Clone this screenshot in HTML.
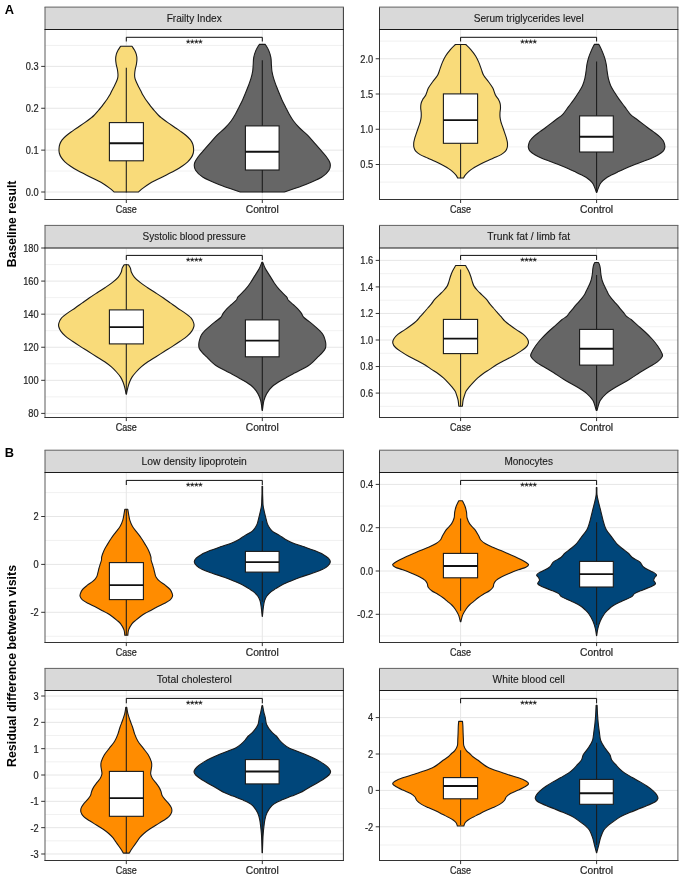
<!DOCTYPE html><html><head><meta charset="utf-8"><style>html,body{margin:0;padding:0;background:#fff;}svg{display:block;will-change:transform;}text{font-family:"Liberation Sans",sans-serif;}</style></head><body>
<svg width="685" height="886" viewBox="0 0 685 886">
<rect width="685" height="886" fill="#fff"/>
<line x1="45" y1="171.06" x2="343.4" y2="171.06" stroke="#EEEEEE" stroke-width="0.8"/>
<line x1="45" y1="129.19" x2="343.4" y2="129.19" stroke="#EEEEEE" stroke-width="0.8"/>
<line x1="45" y1="87.33" x2="343.4" y2="87.33" stroke="#EEEEEE" stroke-width="0.8"/>
<line x1="45" y1="45.46" x2="343.4" y2="45.46" stroke="#EEEEEE" stroke-width="0.8"/>
<line x1="45" y1="192" x2="343.4" y2="192" stroke="#E6E6E6" stroke-width="1"/>
<line x1="45" y1="150.13" x2="343.4" y2="150.13" stroke="#E6E6E6" stroke-width="1"/>
<line x1="45" y1="108.26" x2="343.4" y2="108.26" stroke="#E6E6E6" stroke-width="1"/>
<line x1="45" y1="66.39" x2="343.4" y2="66.39" stroke="#E6E6E6" stroke-width="1"/>
<line x1="126.3" y1="29.5" x2="126.3" y2="199.4" stroke="#E6E6E6" stroke-width="1"/>
<line x1="262.3" y1="29.5" x2="262.3" y2="199.4" stroke="#E6E6E6" stroke-width="1"/>
<path d="M120.65 46.2 L131.95 46.2 C132.37 46.85 133.73 48.77 134.45 50.1 C135.17 51.43 135.83 52.67 136.25 54.2 C136.67 55.73 136.92 57.6 136.95 59.3 C136.97 61 136.69 62.7 136.4 64.4 C136.11 66.1 135.5 67.78 135.2 69.5 C134.9 71.22 134.62 73.17 134.6 74.7 C134.57 76.23 134.7 77.35 135.05 78.7 C135.4 80.05 136.09 81.43 136.7 82.8 C137.31 84.17 138 85.53 138.7 86.9 C139.4 88.27 140.2 89.63 140.9 91 C141.6 92.37 142.13 93.73 142.9 95.1 C143.67 96.47 144.57 97.83 145.5 99.2 C146.43 100.57 147.48 101.93 148.5 103.3 C149.52 104.67 150.52 106.05 151.6 107.4 C152.68 108.75 153.82 110.05 155 111.4 C156.18 112.75 157.6 114.4 158.7 115.5 C159.8 116.6 160.13 116.85 161.6 118 C163.07 119.15 165.45 120.93 167.5 122.4 C169.55 123.87 171.78 125.35 173.9 126.8 C176.02 128.25 178.17 129.65 180.2 131.1 C182.23 132.55 184.38 134.03 186.1 135.5 C187.82 136.97 189.38 138.43 190.5 139.9 C191.62 141.37 192.28 142.83 192.8 144.3 C193.32 145.77 193.52 147.25 193.6 148.7 C193.68 150.15 193.67 151.55 193.3 153 C192.93 154.45 192.33 155.93 191.4 157.4 C190.47 158.87 189.27 160.33 187.7 161.8 C186.13 163.27 184.12 164.73 182 166.2 C179.88 167.67 177.6 169.15 175 170.6 C172.4 172.05 169.28 173.45 166.4 174.9 C163.52 176.35 160.55 177.83 157.7 179.3 C154.85 180.77 151.75 182.23 149.3 183.7 C146.85 185.17 144.83 186.72 143 188.1 C141.17 189.48 139.08 191.35 138.3 192 L114.3 192 C113.52 191.35 111.43 189.48 109.6 188.1 C107.77 186.72 105.75 185.17 103.3 183.7 C100.85 182.23 97.75 180.77 94.9 179.3 C92.05 177.83 89.08 176.35 86.2 174.9 C83.32 173.45 80.2 172.05 77.6 170.6 C75 169.15 72.72 167.67 70.6 166.2 C68.48 164.73 66.47 163.27 64.9 161.8 C63.33 160.33 62.13 158.87 61.2 157.4 C60.27 155.93 59.67 154.45 59.3 153 C58.93 151.55 58.92 150.15 59 148.7 C59.08 147.25 59.28 145.77 59.8 144.3 C60.32 142.83 60.98 141.37 62.1 139.9 C63.22 138.43 64.78 136.97 66.5 135.5 C68.22 134.03 70.37 132.55 72.4 131.1 C74.43 129.65 76.58 128.25 78.7 126.8 C80.82 125.35 83.05 123.87 85.1 122.4 C87.15 120.93 89.53 119.15 91 118 C92.47 116.85 92.8 116.6 93.9 115.5 C95 114.4 96.42 112.75 97.6 111.4 C98.78 110.05 99.92 108.75 101 107.4 C102.08 106.05 103.08 104.67 104.1 103.3 C105.12 101.93 106.17 100.57 107.1 99.2 C108.03 97.83 108.93 96.47 109.7 95.1 C110.47 93.73 111 92.37 111.7 91 C112.4 89.63 113.2 88.27 113.9 86.9 C114.6 85.53 115.29 84.17 115.9 82.8 C116.51 81.43 117.2 80.05 117.55 78.7 C117.9 77.35 118.03 76.23 118 74.7 C117.97 73.17 117.7 71.22 117.4 69.5 C117.1 67.78 116.49 66.1 116.2 64.4 C115.91 62.7 115.62 61 115.65 59.3 C115.67 57.6 115.93 55.73 116.35 54.2 C116.77 52.67 117.43 51.43 118.15 50.1 C118.87 48.77 120.23 46.85 120.65 46.2 Z" fill="#F9DB7A" stroke="#1a1a1a" stroke-width="1.1" stroke-linejoin="round"/>
<line x1="126.3" y1="67.7" x2="126.3" y2="192.5" stroke="#1a1a1a" stroke-width="1.05"/>
<rect x="109.4" y="122.6" width="34" height="38.2" fill="#fff" stroke="#1a1a1a" stroke-width="1.1"/>
<line x1="109.4" y1="143.3" x2="143.4" y2="143.3" stroke="#111" stroke-width="1.95"/>
<path d="M259.3 44.4 L265.3 44.4 C265.88 45.43 267.87 48.4 268.8 50.6 C269.73 52.8 270.47 55.25 270.9 57.6 C271.33 59.95 271.22 62.35 271.4 64.7 C271.58 67.05 271.62 69.37 272 71.7 C272.38 74.03 273 76.35 273.7 78.7 C274.4 81.05 275.32 83.45 276.2 85.8 C277.08 88.15 278.03 90.45 279 92.8 C279.97 95.15 280.92 97.55 282 99.9 C283.08 102.25 284.32 104.55 285.5 106.9 C286.68 109.25 287.77 111.65 289.1 114 C290.43 116.35 291.75 118.67 293.5 121 C295.25 123.33 297.27 125.65 299.6 128 C301.93 130.35 305.15 132.75 307.5 135.1 C309.85 137.45 311.63 139.75 313.7 142.1 C315.77 144.45 317.85 146.85 319.9 149.2 C321.95 151.55 324.3 153.85 326 156.2 C327.7 158.55 329.6 160.95 330.1 163.3 C330.6 165.65 330.42 167.97 329 170.3 C327.58 172.63 325.47 174.95 321.6 177.3 C317.73 179.65 312.02 181.95 305.8 184.4 C299.58 186.85 287.88 190.73 284.3 192 L240.3 192 C236.72 190.73 225.02 186.85 218.8 184.4 C212.58 181.95 206.87 179.65 203 177.3 C199.13 174.95 197.02 172.63 195.6 170.3 C194.18 167.97 194 165.65 194.5 163.3 C195 160.95 196.9 158.55 198.6 156.2 C200.3 153.85 202.65 151.55 204.7 149.2 C206.75 146.85 208.83 144.45 210.9 142.1 C212.97 139.75 214.75 137.45 217.1 135.1 C219.45 132.75 222.67 130.35 225 128 C227.33 125.65 229.35 123.33 231.1 121 C232.85 118.67 234.17 116.35 235.5 114 C236.83 111.65 237.92 109.25 239.1 106.9 C240.28 104.55 241.52 102.25 242.6 99.9 C243.68 97.55 244.63 95.15 245.6 92.8 C246.57 90.45 247.52 88.15 248.4 85.8 C249.28 83.45 250.2 81.05 250.9 78.7 C251.6 76.35 252.22 74.03 252.6 71.7 C252.98 69.37 253.02 67.05 253.2 64.7 C253.38 62.35 253.27 59.95 253.7 57.6 C254.13 55.25 254.87 52.8 255.8 50.6 C256.73 48.4 258.72 45.43 259.3 44.4 Z" fill="#666666" stroke="#1a1a1a" stroke-width="1.1" stroke-linejoin="round"/>
<line x1="262.3" y1="60.2" x2="262.3" y2="192.5" stroke="#1a1a1a" stroke-width="1.05"/>
<rect x="245.4" y="125.9" width="33.7" height="44.1" fill="#fff" stroke="#1a1a1a" stroke-width="1.1"/>
<line x1="245.4" y1="151.8" x2="279.1" y2="151.8" stroke="#111" stroke-width="1.95"/>
<path d="M126.3 41.5 V37.3 H262.3 V41.5" fill="none" stroke="#000" stroke-width="0.95"/>
<path d="M188.15 39.35L188.62 40.95L190.29 40.9L188.91 41.85L189.47 43.42L188.15 42.4L186.83 43.42L187.39 41.85L186.01 40.9L187.68 40.95ZM192.25 39.35L192.72 40.95L194.39 40.9L193.01 41.85L193.57 43.42L192.25 42.4L190.93 43.42L191.49 41.85L190.11 40.9L191.78 40.95ZM196.35 39.35L196.82 40.95L198.49 40.9L197.11 41.85L197.67 43.42L196.35 42.4L195.03 43.42L195.59 41.85L194.21 40.9L195.88 40.95ZM200.45 39.35L200.92 40.95L202.59 40.9L201.21 41.85L201.77 43.42L200.45 42.4L199.13 43.42L199.69 41.85L198.31 40.9L199.98 40.95Z" stroke="#222" stroke-width="0.25" stroke-linejoin="round" fill="#222"/>
<rect x="45" y="7.1" width="298.4" height="22.4" fill="#D9D9D9"/>
<line x1="45" y1="7.1" x2="45" y2="199.9" stroke="#5a5a5a" stroke-width="1.0"/>
<line x1="343.4" y1="7.1" x2="343.4" y2="199.9" stroke="#333333" stroke-width="1.0"/>
<line x1="44.5" y1="7.1" x2="343.9" y2="7.1" stroke="#606060" stroke-width="1"/>
<line x1="44.5" y1="29.5" x2="343.9" y2="29.5" stroke="#1a1a1a" stroke-width="1.05"/>
<line x1="44.5" y1="199.4" x2="343.9" y2="199.4" stroke="#333333" stroke-width="1.05"/>
<text x="194.2" y="21.7" font-size="10.2" fill="#1a1a1a" stroke="#1a1a1a" stroke-width="0.12" text-anchor="middle" textLength="55" lengthAdjust="spacingAndGlyphs">Frailty Index</text>
<line x1="41.2" y1="192" x2="45" y2="192" stroke="#333333" stroke-width="1"/>
<text transform="translate(38.6 195.85) scale(0.925 1)" font-size="10" fill="#262626" stroke="#262626" stroke-width="0.22" text-anchor="end">0.0</text>
<line x1="41.2" y1="150.13" x2="45" y2="150.13" stroke="#333333" stroke-width="1"/>
<text transform="translate(38.6 153.98) scale(0.925 1)" font-size="10" fill="#262626" stroke="#262626" stroke-width="0.22" text-anchor="end">0.1</text>
<line x1="41.2" y1="108.26" x2="45" y2="108.26" stroke="#333333" stroke-width="1"/>
<text transform="translate(38.6 112.11) scale(0.925 1)" font-size="10" fill="#262626" stroke="#262626" stroke-width="0.22" text-anchor="end">0.2</text>
<line x1="41.2" y1="66.39" x2="45" y2="66.39" stroke="#333333" stroke-width="1"/>
<text transform="translate(38.6 70.24) scale(0.925 1)" font-size="10" fill="#262626" stroke="#262626" stroke-width="0.22" text-anchor="end">0.3</text>
<line x1="126.3" y1="199.4" x2="126.3" y2="203" stroke="#333333" stroke-width="1"/>
<text x="126.3" y="213" font-size="10.1" fill="#262626" stroke="#262626" stroke-width="0.22" text-anchor="middle" textLength="21" lengthAdjust="spacingAndGlyphs">Case</text>
<line x1="262.3" y1="199.4" x2="262.3" y2="203" stroke="#333333" stroke-width="1"/>
<text x="262.3" y="213" font-size="10.1" fill="#262626" stroke="#262626" stroke-width="0.22" text-anchor="middle" textLength="33.1" lengthAdjust="spacingAndGlyphs">Control</text>
<line x1="379.5" y1="182.12" x2="677.9" y2="182.12" stroke="#EEEEEE" stroke-width="0.8"/>
<line x1="379.5" y1="146.88" x2="677.9" y2="146.88" stroke="#EEEEEE" stroke-width="0.8"/>
<line x1="379.5" y1="111.62" x2="677.9" y2="111.62" stroke="#EEEEEE" stroke-width="0.8"/>
<line x1="379.5" y1="76.38" x2="677.9" y2="76.38" stroke="#EEEEEE" stroke-width="0.8"/>
<line x1="379.5" y1="41.12" x2="677.9" y2="41.12" stroke="#EEEEEE" stroke-width="0.8"/>
<line x1="379.5" y1="164.5" x2="677.9" y2="164.5" stroke="#E6E6E6" stroke-width="1"/>
<line x1="379.5" y1="129.25" x2="677.9" y2="129.25" stroke="#E6E6E6" stroke-width="1"/>
<line x1="379.5" y1="94" x2="677.9" y2="94" stroke="#E6E6E6" stroke-width="1"/>
<line x1="379.5" y1="58.75" x2="677.9" y2="58.75" stroke="#E6E6E6" stroke-width="1"/>
<line x1="460.6" y1="29.5" x2="460.6" y2="199.4" stroke="#E6E6E6" stroke-width="1"/>
<line x1="596.6" y1="29.5" x2="596.6" y2="199.4" stroke="#E6E6E6" stroke-width="1"/>
<path d="M455.5 44.5 L465.7 44.5 C466.55 45.35 469.15 47.68 470.8 49.6 C472.45 51.52 474.27 53.87 475.6 56 C476.93 58.13 477.87 60.25 478.8 62.4 C479.73 64.55 480.4 66.75 481.2 68.9 C482 71.05 482.38 73.17 483.6 75.3 C484.82 77.43 486.97 79.57 488.5 81.7 C490.03 83.83 491.65 85.88 492.8 88.1 C493.95 90.32 494.45 93.12 495.4 95 C496.35 96.88 497.7 97.93 498.5 99.4 C499.3 100.87 499.87 102.35 500.2 103.8 C500.53 105.25 500.53 106.65 500.5 108.1 C500.47 109.55 500.08 111.03 500 112.5 C499.92 113.97 499.87 115.43 500 116.9 C500.13 118.37 500.43 119.83 500.8 121.3 C501.17 122.77 501.72 124.25 502.2 125.7 C502.68 127.15 503.2 128.55 503.7 130 C504.2 131.45 504.72 132.93 505.2 134.4 C505.68 135.87 506.22 137.33 506.6 138.8 C506.98 140.27 507.4 141.73 507.5 143.2 C507.6 144.67 507.53 146.28 507.2 147.6 C506.87 148.92 506.52 149.93 505.5 151.1 C504.48 152.27 503.08 153.43 501.1 154.6 C499.12 155.77 496.15 156.93 493.6 158.1 C491.05 159.27 488.27 160.43 485.8 161.6 C483.33 162.77 481 163.93 478.8 165.1 C476.6 166.27 474.25 167.55 472.6 168.6 C470.95 169.65 470.17 170.27 468.9 171.4 C467.63 172.53 465.88 174.3 465 175.4 C464.12 176.5 463.83 177.57 463.6 178 L457.6 178 C457.37 177.57 457.08 176.5 456.2 175.4 C455.32 174.3 453.57 172.53 452.3 171.4 C451.03 170.27 450.25 169.65 448.6 168.6 C446.95 167.55 444.6 166.27 442.4 165.1 C440.2 163.93 437.87 162.77 435.4 161.6 C432.93 160.43 430.15 159.27 427.6 158.1 C425.05 156.93 422.08 155.77 420.1 154.6 C418.12 153.43 416.72 152.27 415.7 151.1 C414.68 149.93 414.33 148.92 414 147.6 C413.67 146.28 413.6 144.67 413.7 143.2 C413.8 141.73 414.22 140.27 414.6 138.8 C414.98 137.33 415.52 135.87 416 134.4 C416.48 132.93 417 131.45 417.5 130 C418 128.55 418.52 127.15 419 125.7 C419.48 124.25 420.03 122.77 420.4 121.3 C420.77 119.83 421.07 118.37 421.2 116.9 C421.33 115.43 421.28 113.97 421.2 112.5 C421.12 111.03 420.73 109.55 420.7 108.1 C420.67 106.65 420.67 105.25 421 103.8 C421.33 102.35 421.9 100.87 422.7 99.4 C423.5 97.93 424.85 96.88 425.8 95 C426.75 93.12 427.25 90.32 428.4 88.1 C429.55 85.88 431.17 83.83 432.7 81.7 C434.23 79.57 436.38 77.43 437.6 75.3 C438.82 73.17 439.2 71.05 440 68.9 C440.8 66.75 441.47 64.55 442.4 62.4 C443.33 60.25 444.27 58.13 445.6 56 C446.93 53.87 448.75 51.52 450.4 49.6 C452.05 47.68 454.65 45.35 455.5 44.5 Z" fill="#F9DB7A" stroke="#1a1a1a" stroke-width="1.1" stroke-linejoin="round"/>
<line x1="460.6" y1="44.5" x2="460.6" y2="178.3" stroke="#1a1a1a" stroke-width="1.05"/>
<rect x="443.4" y="93.9" width="34.2" height="49.4" fill="#fff" stroke="#1a1a1a" stroke-width="1.1"/>
<line x1="443.4" y1="120.1" x2="477.6" y2="120.1" stroke="#111" stroke-width="1.95"/>
<path d="M594.3 44.4 L598.9 44.4 C599.4 45.43 600.95 48.4 601.9 50.6 C602.85 52.8 603.87 55.25 604.6 57.6 C605.33 59.95 605.87 62.35 606.3 64.7 C606.73 67.05 606.85 69.37 607.2 71.7 C607.55 74.03 607.82 76.35 608.4 78.7 C608.98 81.05 609.63 83.45 610.7 85.8 C611.77 88.15 613.33 90.45 614.8 92.8 C616.27 95.15 617.83 97.55 619.5 99.9 C621.17 102.25 622.98 104.48 624.8 106.9 C626.62 109.32 628.52 112.42 630.4 114.4 C632.28 116.38 634.2 117.35 636.1 118.8 C638 120.25 639.9 121.65 641.8 123.1 C643.7 124.55 645.53 126.03 647.5 127.5 C649.47 128.97 651.63 130.43 653.6 131.9 C655.57 133.37 657.7 134.83 659.3 136.3 C660.9 137.77 662.3 139.25 663.2 140.7 C664.1 142.15 664.43 143.83 664.7 145 C664.97 146.17 665.05 146.67 664.8 147.7 C664.55 148.73 664.27 150.03 663.2 151.2 C662.13 152.37 660.37 153.53 658.4 154.7 C656.43 155.87 654.1 157.03 651.4 158.2 C648.7 159.37 645.27 160.53 642.2 161.7 C639.13 162.87 635.92 164.03 633 165.2 C630.08 166.37 627.32 167.53 624.7 168.7 C622.08 169.87 619.42 171.18 617.3 172.2 C615.18 173.22 613.68 173.95 612 174.8 C610.32 175.65 609.03 176 607.2 177.3 C605.37 178.6 602.47 180.83 601 182.6 C599.53 184.37 599.1 186.27 598.4 187.9 C597.7 189.53 597.07 191.65 596.8 192.4 L596.4 192.4 C596.13 191.65 595.5 189.53 594.8 187.9 C594.1 186.27 593.67 184.37 592.2 182.6 C590.73 180.83 587.83 178.6 586 177.3 C584.17 176 582.88 175.65 581.2 174.8 C579.52 173.95 578.02 173.22 575.9 172.2 C573.78 171.18 571.12 169.87 568.5 168.7 C565.88 167.53 563.12 166.37 560.2 165.2 C557.28 164.03 554.07 162.87 551 161.7 C547.93 160.53 544.5 159.37 541.8 158.2 C539.1 157.03 536.77 155.87 534.8 154.7 C532.83 153.53 531.07 152.37 530 151.2 C528.93 150.03 528.65 148.73 528.4 147.7 C528.15 146.67 528.23 146.17 528.5 145 C528.77 143.83 529.1 142.15 530 140.7 C530.9 139.25 532.3 137.77 533.9 136.3 C535.5 134.83 537.63 133.37 539.6 131.9 C541.57 130.43 543.73 128.97 545.7 127.5 C547.67 126.03 549.5 124.55 551.4 123.1 C553.3 121.65 555.2 120.25 557.1 118.8 C559 117.35 560.92 116.38 562.8 114.4 C564.68 112.42 566.58 109.32 568.4 106.9 C570.22 104.48 572.03 102.25 573.7 99.9 C575.37 97.55 576.93 95.15 578.4 92.8 C579.87 90.45 581.43 88.15 582.5 85.8 C583.57 83.45 584.22 81.05 584.8 78.7 C585.38 76.35 585.65 74.03 586 71.7 C586.35 69.37 586.47 67.05 586.9 64.7 C587.33 62.35 587.87 59.95 588.6 57.6 C589.33 55.25 590.35 52.8 591.3 50.6 C592.25 48.4 593.8 45.43 594.3 44.4 Z" fill="#666666" stroke="#1a1a1a" stroke-width="1.1" stroke-linejoin="round"/>
<line x1="596.6" y1="61.5" x2="596.6" y2="192.5" stroke="#1a1a1a" stroke-width="1.05"/>
<rect x="579.6" y="115.9" width="33.7" height="36.1" fill="#fff" stroke="#1a1a1a" stroke-width="1.1"/>
<line x1="579.6" y1="136.8" x2="613.3" y2="136.8" stroke="#111" stroke-width="1.95"/>
<path d="M460.6 41.5 V37.3 H596.6 V41.5" fill="none" stroke="#000" stroke-width="0.95"/>
<path d="M522.45 39.35L522.92 40.95L524.59 40.9L523.21 41.85L523.77 43.42L522.45 42.4L521.13 43.42L521.69 41.85L520.31 40.9L521.98 40.95ZM526.55 39.35L527.02 40.95L528.69 40.9L527.31 41.85L527.87 43.42L526.55 42.4L525.23 43.42L525.79 41.85L524.41 40.9L526.08 40.95ZM530.65 39.35L531.12 40.95L532.79 40.9L531.41 41.85L531.97 43.42L530.65 42.4L529.33 43.42L529.89 41.85L528.51 40.9L530.18 40.95ZM534.75 39.35L535.22 40.95L536.89 40.9L535.51 41.85L536.07 43.42L534.75 42.4L533.43 43.42L533.99 41.85L532.61 40.9L534.28 40.95Z" stroke="#222" stroke-width="0.25" stroke-linejoin="round" fill="#222"/>
<rect x="379.5" y="7.1" width="298.4" height="22.4" fill="#D9D9D9"/>
<line x1="379.5" y1="7.1" x2="379.5" y2="199.9" stroke="#333333" stroke-width="1.0"/>
<line x1="677.9" y1="7.1" x2="677.9" y2="199.9" stroke="#5a5a5a" stroke-width="1.0"/>
<line x1="379" y1="7.1" x2="678.4" y2="7.1" stroke="#606060" stroke-width="1"/>
<line x1="379" y1="29.5" x2="678.4" y2="29.5" stroke="#1a1a1a" stroke-width="1.05"/>
<line x1="379" y1="199.4" x2="678.4" y2="199.4" stroke="#333333" stroke-width="1.05"/>
<text x="528.7" y="21.7" font-size="10.2" fill="#1a1a1a" stroke="#1a1a1a" stroke-width="0.12" text-anchor="middle" textLength="110" lengthAdjust="spacingAndGlyphs">Serum triglycerides level</text>
<line x1="375.7" y1="164.5" x2="379.5" y2="164.5" stroke="#333333" stroke-width="1"/>
<text transform="translate(373.1 168.35) scale(0.925 1)" font-size="10" fill="#262626" stroke="#262626" stroke-width="0.22" text-anchor="end">0.5</text>
<line x1="375.7" y1="129.25" x2="379.5" y2="129.25" stroke="#333333" stroke-width="1"/>
<text transform="translate(373.1 133.1) scale(0.925 1)" font-size="10" fill="#262626" stroke="#262626" stroke-width="0.22" text-anchor="end">1.0</text>
<line x1="375.7" y1="94" x2="379.5" y2="94" stroke="#333333" stroke-width="1"/>
<text transform="translate(373.1 97.85) scale(0.925 1)" font-size="10" fill="#262626" stroke="#262626" stroke-width="0.22" text-anchor="end">1.5</text>
<line x1="375.7" y1="58.75" x2="379.5" y2="58.75" stroke="#333333" stroke-width="1"/>
<text transform="translate(373.1 62.6) scale(0.925 1)" font-size="10" fill="#262626" stroke="#262626" stroke-width="0.22" text-anchor="end">2.0</text>
<line x1="460.6" y1="199.4" x2="460.6" y2="203" stroke="#333333" stroke-width="1"/>
<text x="460.6" y="213" font-size="10.1" fill="#262626" stroke="#262626" stroke-width="0.22" text-anchor="middle" textLength="21" lengthAdjust="spacingAndGlyphs">Case</text>
<line x1="596.6" y1="199.4" x2="596.6" y2="203" stroke="#333333" stroke-width="1"/>
<text x="596.6" y="213" font-size="10.1" fill="#262626" stroke="#262626" stroke-width="0.22" text-anchor="middle" textLength="33.1" lengthAdjust="spacingAndGlyphs">Control</text>
<line x1="45" y1="396.86" x2="343.4" y2="396.86" stroke="#EEEEEE" stroke-width="0.8"/>
<line x1="45" y1="363.78" x2="343.4" y2="363.78" stroke="#EEEEEE" stroke-width="0.8"/>
<line x1="45" y1="330.7" x2="343.4" y2="330.7" stroke="#EEEEEE" stroke-width="0.8"/>
<line x1="45" y1="297.62" x2="343.4" y2="297.62" stroke="#EEEEEE" stroke-width="0.8"/>
<line x1="45" y1="264.54" x2="343.4" y2="264.54" stroke="#EEEEEE" stroke-width="0.8"/>
<line x1="45" y1="413.4" x2="343.4" y2="413.4" stroke="#E6E6E6" stroke-width="1"/>
<line x1="45" y1="380.32" x2="343.4" y2="380.32" stroke="#E6E6E6" stroke-width="1"/>
<line x1="45" y1="347.24" x2="343.4" y2="347.24" stroke="#E6E6E6" stroke-width="1"/>
<line x1="45" y1="314.16" x2="343.4" y2="314.16" stroke="#E6E6E6" stroke-width="1"/>
<line x1="45" y1="281.08" x2="343.4" y2="281.08" stroke="#E6E6E6" stroke-width="1"/>
<line x1="45" y1="248" x2="343.4" y2="248" stroke="#E6E6E6" stroke-width="1"/>
<line x1="126.3" y1="247.9" x2="126.3" y2="417.5" stroke="#E6E6E6" stroke-width="1"/>
<line x1="262.3" y1="247.9" x2="262.3" y2="417.5" stroke="#E6E6E6" stroke-width="1"/>
<path d="M124.2 264.7 L128.4 264.7 C128.73 265.27 129.9 266.85 130.4 268.1 C130.9 269.35 130.72 270.67 131.4 272.2 C132.08 273.73 133.05 275.6 134.5 277.3 C135.95 279 137.97 280.7 140.1 282.4 C142.23 284.1 144.75 285.78 147.3 287.5 C149.85 289.22 152.77 290.98 155.4 292.7 C158.03 294.42 160.62 296.1 163.1 297.8 C165.58 299.5 167.92 301.2 170.3 302.9 C172.68 304.6 174.93 306.3 177.4 308 C179.87 309.7 182.8 311.4 185.1 313.1 C187.4 314.8 189.75 316.5 191.2 318.2 C192.65 319.9 193.35 321.92 193.8 323.3 C194.25 324.68 194.23 325.2 193.9 326.5 C193.57 327.8 192.92 329.48 191.8 331.1 C190.68 332.72 189.15 334.5 187.2 336.2 C185.25 337.9 182.57 339.6 180.1 341.3 C177.63 343 175.05 344.7 172.4 346.4 C169.75 348.1 166.93 349.78 164.2 351.5 C161.47 353.22 158.72 354.98 156 356.7 C153.28 358.42 150.37 360.1 147.9 361.8 C145.43 363.5 143.17 365.2 141.2 366.9 C139.23 368.6 137.63 370.3 136.1 372 C134.57 373.7 133.1 375.4 132 377.1 C130.9 378.8 130.18 380.5 129.5 382.2 C128.82 383.9 128.42 385.3 127.9 387.3 C127.38 389.3 126.65 393.05 126.4 394.2 L126.2 394.2 C125.95 393.05 125.22 389.3 124.7 387.3 C124.18 385.3 123.78 383.9 123.1 382.2 C122.42 380.5 121.7 378.8 120.6 377.1 C119.5 375.4 118.03 373.7 116.5 372 C114.97 370.3 113.37 368.6 111.4 366.9 C109.43 365.2 107.17 363.5 104.7 361.8 C102.23 360.1 99.32 358.42 96.6 356.7 C93.88 354.98 91.13 353.22 88.4 351.5 C85.67 349.78 82.85 348.1 80.2 346.4 C77.55 344.7 74.97 343 72.5 341.3 C70.03 339.6 67.35 337.9 65.4 336.2 C63.45 334.5 61.92 332.72 60.8 331.1 C59.68 329.48 59.03 327.8 58.7 326.5 C58.37 325.2 58.35 324.68 58.8 323.3 C59.25 321.92 59.95 319.9 61.4 318.2 C62.85 316.5 65.2 314.8 67.5 313.1 C69.8 311.4 72.73 309.7 75.2 308 C77.67 306.3 79.92 304.6 82.3 302.9 C84.68 301.2 87.02 299.5 89.5 297.8 C91.98 296.1 94.57 294.42 97.2 292.7 C99.83 290.98 102.75 289.22 105.3 287.5 C107.85 285.78 110.37 284.1 112.5 282.4 C114.63 280.7 116.65 279 118.1 277.3 C119.55 275.6 120.52 273.73 121.2 272.2 C121.88 270.67 121.7 269.35 122.2 268.1 C122.7 266.85 123.87 265.27 124.2 264.7 Z" fill="#F9DB7A" stroke="#1a1a1a" stroke-width="1.1" stroke-linejoin="round"/>
<line x1="126.3" y1="264" x2="126.3" y2="394.3" stroke="#1a1a1a" stroke-width="1.05"/>
<rect x="109.4" y="309.9" width="34" height="34" fill="#fff" stroke="#1a1a1a" stroke-width="1.1"/>
<line x1="109.4" y1="327.1" x2="143.4" y2="327.1" stroke="#111" stroke-width="1.95"/>
<path d="M261.8 262.4 L262.8 262.4 C263.22 263.43 264.15 266.4 265.3 268.6 C266.45 270.8 268.23 273.25 269.7 275.6 C271.17 277.95 272.48 280.35 274.1 282.7 C275.72 285.05 277.35 287.37 279.4 289.7 C281.45 292.03 284.93 294.98 286.4 296.7 C287.87 298.42 287.1 298.72 288.2 300 C289.3 301.28 291.4 302.93 293 304.4 C294.6 305.87 296.42 307.35 297.8 308.8 C299.18 310.25 300.28 311.65 301.3 313.1 C302.32 314.55 302.52 316.03 303.9 317.5 C305.28 318.97 307.77 320.43 309.6 321.9 C311.43 323.37 313.22 324.83 314.9 326.3 C316.58 327.77 318.32 329.25 319.7 330.7 C321.08 332.15 322.33 333.55 323.2 335 C324.07 336.45 324.47 337.93 324.9 339.4 C325.33 340.87 325.72 342.33 325.8 343.8 C325.88 345.27 325.98 346.73 325.4 348.2 C324.82 349.67 323.55 351.15 322.3 352.6 C321.05 354.05 319.35 355.45 317.9 356.9 C316.45 358.35 315.2 359.83 313.6 361.3 C312 362.77 310.5 364.23 308.3 365.7 C306.1 367.17 302.88 368.78 300.4 370.1 C297.92 371.42 296.32 372.03 293.4 373.6 C290.48 375.17 286.42 377.35 282.9 379.5 C279.38 381.65 275 384.15 272.3 386.5 C269.6 388.85 268.1 391.25 266.7 393.6 C265.3 395.95 264.62 397.8 263.9 400.6 C263.18 403.4 262.65 408.77 262.4 410.4 L262.2 410.4 C261.95 408.77 261.42 403.4 260.7 400.6 C259.98 397.8 259.3 395.95 257.9 393.6 C256.5 391.25 255 388.85 252.3 386.5 C249.6 384.15 245.22 381.65 241.7 379.5 C238.18 377.35 234.12 375.17 231.2 373.6 C228.28 372.03 226.68 371.42 224.2 370.1 C221.72 368.78 218.5 367.17 216.3 365.7 C214.1 364.23 212.6 362.77 211 361.3 C209.4 359.83 208.15 358.35 206.7 356.9 C205.25 355.45 203.55 354.05 202.3 352.6 C201.05 351.15 199.78 349.67 199.2 348.2 C198.62 346.73 198.72 345.27 198.8 343.8 C198.88 342.33 199.27 340.87 199.7 339.4 C200.13 337.93 200.53 336.45 201.4 335 C202.27 333.55 203.52 332.15 204.9 330.7 C206.28 329.25 208.02 327.77 209.7 326.3 C211.38 324.83 213.17 323.37 215 321.9 C216.83 320.43 219.32 318.97 220.7 317.5 C222.08 316.03 222.28 314.55 223.3 313.1 C224.32 311.65 225.42 310.25 226.8 308.8 C228.18 307.35 230 305.87 231.6 304.4 C233.2 302.93 235.3 301.28 236.4 300 C237.5 298.72 236.73 298.42 238.2 296.7 C239.67 294.98 243.15 292.03 245.2 289.7 C247.25 287.37 248.88 285.05 250.5 282.7 C252.12 280.35 253.43 277.95 254.9 275.6 C256.37 273.25 258.15 270.8 259.3 268.6 C260.45 266.4 261.38 263.43 261.8 262.4 Z" fill="#666666" stroke="#1a1a1a" stroke-width="1.1" stroke-linejoin="round"/>
<line x1="262.3" y1="262" x2="262.3" y2="410.5" stroke="#1a1a1a" stroke-width="1.05"/>
<rect x="245.4" y="319.9" width="33.7" height="36.9" fill="#fff" stroke="#1a1a1a" stroke-width="1.1"/>
<line x1="245.4" y1="340.6" x2="279.1" y2="340.6" stroke="#111" stroke-width="1.95"/>
<path d="M126.3 260 V255.4 H262.3 V260" fill="none" stroke="#000" stroke-width="0.95"/>
<path d="M188.15 257.45L188.62 259.05L190.29 259L188.91 259.95L189.47 261.52L188.15 260.5L186.83 261.52L187.39 259.95L186.01 259L187.68 259.05ZM192.25 257.45L192.72 259.05L194.39 259L193.01 259.95L193.57 261.52L192.25 260.5L190.93 261.52L191.49 259.95L190.11 259L191.78 259.05ZM196.35 257.45L196.82 259.05L198.49 259L197.11 259.95L197.67 261.52L196.35 260.5L195.03 261.52L195.59 259.95L194.21 259L195.88 259.05ZM200.45 257.45L200.92 259.05L202.59 259L201.21 259.95L201.77 261.52L200.45 260.5L199.13 261.52L199.69 259.95L198.31 259L199.98 259.05Z" stroke="#222" stroke-width="0.25" stroke-linejoin="round" fill="#222"/>
<rect x="45" y="225.4" width="298.4" height="22.5" fill="#D9D9D9"/>
<line x1="45" y1="225.4" x2="45" y2="418" stroke="#5a5a5a" stroke-width="1.0"/>
<line x1="343.4" y1="225.4" x2="343.4" y2="418" stroke="#333333" stroke-width="1.0"/>
<line x1="44.5" y1="225.4" x2="343.9" y2="225.4" stroke="#606060" stroke-width="1"/>
<line x1="44.5" y1="247.9" x2="343.9" y2="247.9" stroke="#1a1a1a" stroke-width="1.05"/>
<line x1="44.5" y1="417.5" x2="343.9" y2="417.5" stroke="#333333" stroke-width="1.05"/>
<text x="194.2" y="240" font-size="10.2" fill="#1a1a1a" stroke="#1a1a1a" stroke-width="0.12" text-anchor="middle" textLength="103.3" lengthAdjust="spacingAndGlyphs">Systolic blood pressure</text>
<line x1="41.2" y1="413.4" x2="45" y2="413.4" stroke="#333333" stroke-width="1"/>
<text transform="translate(38.6 417.25) scale(0.925 1)" font-size="10" fill="#262626" stroke="#262626" stroke-width="0.22" text-anchor="end">80</text>
<line x1="41.2" y1="380.32" x2="45" y2="380.32" stroke="#333333" stroke-width="1"/>
<text transform="translate(38.6 384.17) scale(0.925 1)" font-size="10" fill="#262626" stroke="#262626" stroke-width="0.22" text-anchor="end">100</text>
<line x1="41.2" y1="347.24" x2="45" y2="347.24" stroke="#333333" stroke-width="1"/>
<text transform="translate(38.6 351.09) scale(0.925 1)" font-size="10" fill="#262626" stroke="#262626" stroke-width="0.22" text-anchor="end">120</text>
<line x1="41.2" y1="314.16" x2="45" y2="314.16" stroke="#333333" stroke-width="1"/>
<text transform="translate(38.6 318.01) scale(0.925 1)" font-size="10" fill="#262626" stroke="#262626" stroke-width="0.22" text-anchor="end">140</text>
<line x1="41.2" y1="281.08" x2="45" y2="281.08" stroke="#333333" stroke-width="1"/>
<text transform="translate(38.6 284.93) scale(0.925 1)" font-size="10" fill="#262626" stroke="#262626" stroke-width="0.22" text-anchor="end">160</text>
<line x1="41.2" y1="248" x2="45" y2="248" stroke="#333333" stroke-width="1"/>
<text transform="translate(38.6 251.85) scale(0.925 1)" font-size="10" fill="#262626" stroke="#262626" stroke-width="0.22" text-anchor="end">180</text>
<line x1="126.3" y1="417.5" x2="126.3" y2="421.1" stroke="#333333" stroke-width="1"/>
<text x="126.3" y="431.1" font-size="10.1" fill="#262626" stroke="#262626" stroke-width="0.22" text-anchor="middle" textLength="21" lengthAdjust="spacingAndGlyphs">Case</text>
<line x1="262.3" y1="417.5" x2="262.3" y2="421.1" stroke="#333333" stroke-width="1"/>
<text x="262.3" y="431.1" font-size="10.1" fill="#262626" stroke="#262626" stroke-width="0.22" text-anchor="middle" textLength="33.1" lengthAdjust="spacingAndGlyphs">Control</text>
<line x1="379.5" y1="406.35" x2="677.9" y2="406.35" stroke="#EEEEEE" stroke-width="0.8"/>
<line x1="379.5" y1="379.81" x2="677.9" y2="379.81" stroke="#EEEEEE" stroke-width="0.8"/>
<line x1="379.5" y1="353.27" x2="677.9" y2="353.27" stroke="#EEEEEE" stroke-width="0.8"/>
<line x1="379.5" y1="326.73" x2="677.9" y2="326.73" stroke="#EEEEEE" stroke-width="0.8"/>
<line x1="379.5" y1="300.19" x2="677.9" y2="300.19" stroke="#EEEEEE" stroke-width="0.8"/>
<line x1="379.5" y1="273.65" x2="677.9" y2="273.65" stroke="#EEEEEE" stroke-width="0.8"/>
<line x1="379.5" y1="393.08" x2="677.9" y2="393.08" stroke="#E6E6E6" stroke-width="1"/>
<line x1="379.5" y1="366.54" x2="677.9" y2="366.54" stroke="#E6E6E6" stroke-width="1"/>
<line x1="379.5" y1="340" x2="677.9" y2="340" stroke="#E6E6E6" stroke-width="1"/>
<line x1="379.5" y1="313.46" x2="677.9" y2="313.46" stroke="#E6E6E6" stroke-width="1"/>
<line x1="379.5" y1="286.92" x2="677.9" y2="286.92" stroke="#E6E6E6" stroke-width="1"/>
<line x1="379.5" y1="260.38" x2="677.9" y2="260.38" stroke="#E6E6E6" stroke-width="1"/>
<line x1="460.6" y1="247.9" x2="460.6" y2="417.5" stroke="#E6E6E6" stroke-width="1"/>
<line x1="596.6" y1="247.9" x2="596.6" y2="417.5" stroke="#E6E6E6" stroke-width="1"/>
<path d="M455.7 265.5 L465.5 265.5 C466 266.38 467.63 269.02 468.5 270.8 C469.37 272.58 470.07 274.38 470.7 276.2 C471.33 278.02 471.75 280.05 472.3 281.7 C472.85 283.35 473.13 284.63 474 286.1 C474.87 287.57 476.18 289.05 477.5 290.5 C478.82 291.95 480.43 293.35 481.9 294.8 C483.37 296.25 485.02 297.73 486.3 299.2 C487.58 300.67 488.42 302.13 489.6 303.6 C490.78 305.07 492.13 306.53 493.4 308 C494.67 309.47 495.92 310.95 497.2 312.4 C498.48 313.85 499.82 315.25 501.1 316.7 C502.38 318.15 503.35 319.63 504.9 321.1 C506.45 322.57 508.45 324.03 510.4 325.5 C512.35 326.97 514.43 328.42 516.6 329.9 C518.77 331.38 521.62 332.92 523.4 334.4 C525.18 335.88 526.47 337.35 527.3 338.8 C528.13 340.25 528.67 341.65 528.4 343.1 C528.13 344.55 527.15 346.03 525.7 347.5 C524.25 348.97 521.88 350.43 519.7 351.9 C517.52 353.37 515.25 354.83 512.6 356.3 C509.95 357.77 506.55 359.25 503.8 360.7 C501.05 362.15 498.47 363.55 496.1 365 C493.73 366.45 491.78 367.93 489.6 369.4 C487.42 370.87 485.02 372.33 483 373.8 C480.98 375.27 479.15 376.73 477.5 378.2 C475.85 379.67 474.47 381.15 473.1 382.6 C471.73 384.05 470.48 385.45 469.3 386.9 C468.12 388.35 466.82 389.83 466 391.3 C465.18 392.77 464.88 394.23 464.4 395.7 C463.92 397.17 463.43 398.35 463.1 400.1 C462.77 401.85 462.52 405.18 462.4 406.2 L458.8 406.2 C458.68 405.18 458.43 401.85 458.1 400.1 C457.77 398.35 457.28 397.17 456.8 395.7 C456.32 394.23 456.02 392.77 455.2 391.3 C454.38 389.83 453.08 388.35 451.9 386.9 C450.72 385.45 449.47 384.05 448.1 382.6 C446.73 381.15 445.35 379.67 443.7 378.2 C442.05 376.73 440.22 375.27 438.2 373.8 C436.18 372.33 433.78 370.87 431.6 369.4 C429.42 367.93 427.47 366.45 425.1 365 C422.73 363.55 420.15 362.15 417.4 360.7 C414.65 359.25 411.25 357.77 408.6 356.3 C405.95 354.83 403.68 353.37 401.5 351.9 C399.32 350.43 396.95 348.97 395.5 347.5 C394.05 346.03 393.07 344.55 392.8 343.1 C392.53 341.65 393.07 340.25 393.9 338.8 C394.73 337.35 396.02 335.88 397.8 334.4 C399.58 332.92 402.43 331.38 404.6 329.9 C406.77 328.42 408.85 326.97 410.8 325.5 C412.75 324.03 414.75 322.57 416.3 321.1 C417.85 319.63 418.82 318.15 420.1 316.7 C421.38 315.25 422.72 313.85 424 312.4 C425.28 310.95 426.53 309.47 427.8 308 C429.07 306.53 430.42 305.07 431.6 303.6 C432.78 302.13 433.62 300.67 434.9 299.2 C436.18 297.73 437.83 296.25 439.3 294.8 C440.77 293.35 442.38 291.95 443.7 290.5 C445.02 289.05 446.33 287.57 447.2 286.1 C448.07 284.63 448.35 283.35 448.9 281.7 C449.45 280.05 449.87 278.02 450.5 276.2 C451.13 274.38 451.83 272.58 452.7 270.8 C453.57 269.02 455.2 266.38 455.7 265.5 Z" fill="#F9DB7A" stroke="#1a1a1a" stroke-width="1.1" stroke-linejoin="round"/>
<line x1="460.6" y1="269.5" x2="460.6" y2="406.3" stroke="#1a1a1a" stroke-width="1.05"/>
<rect x="443.4" y="319.4" width="34.2" height="34.2" fill="#fff" stroke="#1a1a1a" stroke-width="1.1"/>
<line x1="443.4" y1="338.6" x2="477.6" y2="338.6" stroke="#111" stroke-width="1.95"/>
<path d="M594.8 262.5 L598.4 262.5 C598.62 262.97 599.37 264.22 599.7 265.3 C600.03 266.38 600.23 267.78 600.4 269 C600.57 270.22 600.57 271.4 600.7 272.6 C600.83 273.8 600.98 274.98 601.2 276.2 C601.42 277.42 601.65 278.68 602 279.9 C602.35 281.12 602.8 282.28 603.3 283.5 C603.8 284.72 604.42 285.98 605 287.2 C605.58 288.42 606.2 289.58 606.8 290.8 C607.4 292.02 607.87 293.28 608.6 294.5 C609.33 295.72 610.23 296.88 611.2 298.1 C612.17 299.32 613.32 300.58 614.4 301.8 C615.48 303.02 616.67 304.18 617.7 305.4 C618.73 306.62 619.62 307.88 620.6 309.1 C621.58 310.32 622.62 311.48 623.6 312.7 C624.58 313.92 625.25 315.27 626.5 316.4 C627.75 317.53 629.33 318.08 631.1 319.5 C632.87 320.92 634.77 322.82 637.1 324.9 C639.43 326.98 642.6 329.65 645.1 332 C647.6 334.35 650 336.67 652.1 339 C654.2 341.33 656.08 343.65 657.7 346 C659.32 348.35 661.03 351.33 661.8 353.1 C662.57 354.87 663.03 355.13 662.3 356.6 C661.57 358.07 659.68 360.13 657.4 361.9 C655.12 363.67 651.53 365.43 648.6 367.2 C645.67 368.97 643.03 370.45 639.8 372.5 C636.57 374.55 633.02 377.17 629.2 379.5 C625.38 381.83 620.72 384.15 616.9 386.5 C613.08 388.85 609.08 391.25 606.3 393.6 C603.52 395.95 601.75 397.8 600.2 400.6 C598.65 403.4 597.53 408.77 597 410.4 L596.2 410.4 C595.67 408.77 594.55 403.4 593 400.6 C591.45 397.8 589.68 395.95 586.9 393.6 C584.12 391.25 580.12 388.85 576.3 386.5 C572.48 384.15 567.82 381.83 564 379.5 C560.18 377.17 556.63 374.55 553.4 372.5 C550.17 370.45 547.53 368.97 544.6 367.2 C541.67 365.43 538.08 363.67 535.8 361.9 C533.52 360.13 531.63 358.07 530.9 356.6 C530.17 355.13 530.63 354.87 531.4 353.1 C532.17 351.33 533.88 348.35 535.5 346 C537.12 343.65 539 341.33 541.1 339 C543.2 336.67 545.6 334.35 548.1 332 C550.6 329.65 553.77 326.98 556.1 324.9 C558.43 322.82 560.33 320.92 562.1 319.5 C563.87 318.08 565.45 317.53 566.7 316.4 C567.95 315.27 568.62 313.92 569.6 312.7 C570.58 311.48 571.62 310.32 572.6 309.1 C573.58 307.88 574.47 306.62 575.5 305.4 C576.53 304.18 577.72 303.02 578.8 301.8 C579.88 300.58 581.03 299.32 582 298.1 C582.97 296.88 583.87 295.72 584.6 294.5 C585.33 293.28 585.8 292.02 586.4 290.8 C587 289.58 587.62 288.42 588.2 287.2 C588.78 285.98 589.4 284.72 589.9 283.5 C590.4 282.28 590.85 281.12 591.2 279.9 C591.55 278.68 591.78 277.42 592 276.2 C592.22 274.98 592.37 273.8 592.5 272.6 C592.63 271.4 592.63 270.22 592.8 269 C592.97 267.78 593.17 266.38 593.5 265.3 C593.83 264.22 594.58 262.97 594.8 262.5 Z" fill="#666666" stroke="#1a1a1a" stroke-width="1.1" stroke-linejoin="round"/>
<line x1="596.6" y1="275" x2="596.6" y2="410.5" stroke="#1a1a1a" stroke-width="1.05"/>
<rect x="579.6" y="329.4" width="33.7" height="35.7" fill="#fff" stroke="#1a1a1a" stroke-width="1.1"/>
<line x1="579.6" y1="348.8" x2="613.3" y2="348.8" stroke="#111" stroke-width="1.95"/>
<path d="M460.6 260 V255.4 H596.6 V260" fill="none" stroke="#000" stroke-width="0.95"/>
<path d="M522.45 257.45L522.92 259.05L524.59 259L523.21 259.95L523.77 261.52L522.45 260.5L521.13 261.52L521.69 259.95L520.31 259L521.98 259.05ZM526.55 257.45L527.02 259.05L528.69 259L527.31 259.95L527.87 261.52L526.55 260.5L525.23 261.52L525.79 259.95L524.41 259L526.08 259.05ZM530.65 257.45L531.12 259.05L532.79 259L531.41 259.95L531.97 261.52L530.65 260.5L529.33 261.52L529.89 259.95L528.51 259L530.18 259.05ZM534.75 257.45L535.22 259.05L536.89 259L535.51 259.95L536.07 261.52L534.75 260.5L533.43 261.52L533.99 259.95L532.61 259L534.28 259.05Z" stroke="#222" stroke-width="0.25" stroke-linejoin="round" fill="#222"/>
<rect x="379.5" y="225.4" width="298.4" height="22.5" fill="#D9D9D9"/>
<line x1="379.5" y1="225.4" x2="379.5" y2="418" stroke="#333333" stroke-width="1.0"/>
<line x1="677.9" y1="225.4" x2="677.9" y2="418" stroke="#5a5a5a" stroke-width="1.0"/>
<line x1="379" y1="225.4" x2="678.4" y2="225.4" stroke="#606060" stroke-width="1"/>
<line x1="379" y1="247.9" x2="678.4" y2="247.9" stroke="#1a1a1a" stroke-width="1.05"/>
<line x1="379" y1="417.5" x2="678.4" y2="417.5" stroke="#333333" stroke-width="1.05"/>
<text x="528.7" y="240" font-size="10.2" fill="#1a1a1a" stroke="#1a1a1a" stroke-width="0.12" text-anchor="middle" textLength="82.7" lengthAdjust="spacingAndGlyphs">Trunk fat / limb fat</text>
<line x1="375.7" y1="393.08" x2="379.5" y2="393.08" stroke="#333333" stroke-width="1"/>
<text transform="translate(373.1 396.93) scale(0.925 1)" font-size="10" fill="#262626" stroke="#262626" stroke-width="0.22" text-anchor="end">0.6</text>
<line x1="375.7" y1="366.54" x2="379.5" y2="366.54" stroke="#333333" stroke-width="1"/>
<text transform="translate(373.1 370.39) scale(0.925 1)" font-size="10" fill="#262626" stroke="#262626" stroke-width="0.22" text-anchor="end">0.8</text>
<line x1="375.7" y1="340" x2="379.5" y2="340" stroke="#333333" stroke-width="1"/>
<text transform="translate(373.1 343.85) scale(0.925 1)" font-size="10" fill="#262626" stroke="#262626" stroke-width="0.22" text-anchor="end">1.0</text>
<line x1="375.7" y1="313.46" x2="379.5" y2="313.46" stroke="#333333" stroke-width="1"/>
<text transform="translate(373.1 317.31) scale(0.925 1)" font-size="10" fill="#262626" stroke="#262626" stroke-width="0.22" text-anchor="end">1.2</text>
<line x1="375.7" y1="286.92" x2="379.5" y2="286.92" stroke="#333333" stroke-width="1"/>
<text transform="translate(373.1 290.77) scale(0.925 1)" font-size="10" fill="#262626" stroke="#262626" stroke-width="0.22" text-anchor="end">1.4</text>
<line x1="375.7" y1="260.38" x2="379.5" y2="260.38" stroke="#333333" stroke-width="1"/>
<text transform="translate(373.1 264.23) scale(0.925 1)" font-size="10" fill="#262626" stroke="#262626" stroke-width="0.22" text-anchor="end">1.6</text>
<line x1="460.6" y1="417.5" x2="460.6" y2="421.1" stroke="#333333" stroke-width="1"/>
<text x="460.6" y="431.1" font-size="10.1" fill="#262626" stroke="#262626" stroke-width="0.22" text-anchor="middle" textLength="21" lengthAdjust="spacingAndGlyphs">Case</text>
<line x1="596.6" y1="417.5" x2="596.6" y2="421.1" stroke="#333333" stroke-width="1"/>
<text x="596.6" y="431.1" font-size="10.1" fill="#262626" stroke="#262626" stroke-width="0.22" text-anchor="middle" textLength="33.1" lengthAdjust="spacingAndGlyphs">Control</text>
<line x1="45" y1="636.25" x2="343.4" y2="636.25" stroke="#EEEEEE" stroke-width="0.8"/>
<line x1="45" y1="588.35" x2="343.4" y2="588.35" stroke="#EEEEEE" stroke-width="0.8"/>
<line x1="45" y1="540.45" x2="343.4" y2="540.45" stroke="#EEEEEE" stroke-width="0.8"/>
<line x1="45" y1="492.55" x2="343.4" y2="492.55" stroke="#EEEEEE" stroke-width="0.8"/>
<line x1="45" y1="612.3" x2="343.4" y2="612.3" stroke="#E6E6E6" stroke-width="1"/>
<line x1="45" y1="564.4" x2="343.4" y2="564.4" stroke="#E6E6E6" stroke-width="1"/>
<line x1="45" y1="516.5" x2="343.4" y2="516.5" stroke="#E6E6E6" stroke-width="1"/>
<line x1="126.3" y1="472.5" x2="126.3" y2="642.5" stroke="#E6E6E6" stroke-width="1"/>
<line x1="262.3" y1="472.5" x2="262.3" y2="642.5" stroke="#E6E6E6" stroke-width="1"/>
<path d="M124.8 509.3 L127.8 509.3 C127.93 510.1 128.27 512.28 128.6 514.1 C128.93 515.92 129.17 518.17 129.8 520.2 C130.43 522.23 131.2 524.27 132.4 526.3 C133.6 528.33 135.48 530.37 137 532.4 C138.52 534.43 140.12 536.47 141.5 538.5 C142.88 540.53 144.1 542.57 145.3 544.6 C146.5 546.63 147.77 548.67 148.7 550.7 C149.63 552.73 150.5 555.25 150.9 556.8 C151.3 558.35 150.85 558.77 151.1 560 C151.35 561.23 151.97 562.78 152.4 564.2 C152.83 565.62 153.32 567.08 153.7 568.5 C154.08 569.92 154.32 571.3 154.7 572.7 C155.08 574.1 155.18 575.48 156 576.9 C156.82 578.32 158.02 579.78 159.6 581.2 C161.18 582.62 163.73 584 165.5 585.4 C167.27 586.8 169.07 588.18 170.2 589.6 C171.33 591.02 171.92 592.77 172.3 593.9 C172.68 595.03 172.85 595.42 172.5 596.4 C172.15 597.38 171.5 598.67 170.2 599.8 C168.9 600.93 166.75 602.07 164.7 603.2 C162.65 604.33 160.08 605.48 157.9 606.6 C155.72 607.72 153.72 608.78 151.6 609.9 C149.48 611.02 147.12 612.17 145.2 613.3 C143.28 614.43 141.65 615.57 140.1 616.7 C138.55 617.83 137.27 618.92 135.9 620.1 C134.53 621.28 133.12 622.17 131.9 623.8 C130.68 625.43 129.28 627.98 128.6 629.9 C127.92 631.82 127.93 634.4 127.8 635.3 L124.8 635.3 C124.67 634.4 124.68 631.82 124 629.9 C123.32 627.98 121.92 625.43 120.7 623.8 C119.48 622.17 118.07 621.28 116.7 620.1 C115.33 618.92 114.05 617.83 112.5 616.7 C110.95 615.57 109.32 614.43 107.4 613.3 C105.48 612.17 103.12 611.02 101 609.9 C98.88 608.78 96.88 607.72 94.7 606.6 C92.52 605.48 89.95 604.33 87.9 603.2 C85.85 602.07 83.7 600.93 82.4 599.8 C81.1 598.67 80.45 597.38 80.1 596.4 C79.75 595.42 79.92 595.03 80.3 593.9 C80.68 592.77 81.27 591.02 82.4 589.6 C83.53 588.18 85.33 586.8 87.1 585.4 C88.87 584 91.42 582.62 93 581.2 C94.58 579.78 95.78 578.32 96.6 576.9 C97.42 575.48 97.52 574.1 97.9 572.7 C98.28 571.3 98.52 569.92 98.9 568.5 C99.28 567.08 99.77 565.62 100.2 564.2 C100.63 562.78 101.25 561.23 101.5 560 C101.75 558.77 101.3 558.35 101.7 556.8 C102.1 555.25 102.97 552.73 103.9 550.7 C104.83 548.67 106.1 546.63 107.3 544.6 C108.5 542.57 109.72 540.53 111.1 538.5 C112.48 536.47 114.08 534.43 115.6 532.4 C117.12 530.37 119 528.33 120.2 526.3 C121.4 524.27 122.17 522.23 122.8 520.2 C123.43 518.17 123.67 515.92 124 514.1 C124.33 512.28 124.67 510.1 124.8 509.3 Z" fill="#FF8C00" stroke="#1a1a1a" stroke-width="1.1" stroke-linejoin="round"/>
<line x1="126.3" y1="509" x2="126.3" y2="635.3" stroke="#1a1a1a" stroke-width="1.05"/>
<rect x="109.4" y="562.6" width="34" height="37" fill="#fff" stroke="#1a1a1a" stroke-width="1.1"/>
<line x1="109.4" y1="585.1" x2="143.4" y2="585.1" stroke="#111" stroke-width="1.95"/>
<path d="M262 486.3 L262.6 486.3 C262.6 487.45 262.57 491.03 262.6 493.2 C262.63 495.37 262.72 497.25 262.8 499.3 C262.88 501.35 262.85 503.45 263.1 505.5 C263.35 507.55 263.85 509.55 264.3 511.6 C264.75 513.65 265.28 515.75 265.8 517.8 C266.32 519.85 266.7 522.12 267.4 523.9 C268.1 525.68 269.08 527.22 270 528.5 C270.92 529.78 271.32 530.45 272.9 531.6 C274.48 532.75 277.45 534.13 279.5 535.4 C281.55 536.67 282.98 537.93 285.2 539.2 C287.42 540.47 289.63 541.73 292.8 543 C295.97 544.27 300.57 545.53 304.2 546.8 C307.83 548.07 311.45 549.33 314.6 550.6 C317.75 551.87 320.8 553.13 323.1 554.4 C325.4 555.67 327.2 556.93 328.4 558.2 C329.6 559.47 330.38 560.73 330.3 562 C330.22 563.27 329.25 564.53 327.9 565.8 C326.55 567.07 324.88 568.33 322.2 569.6 C319.52 570.87 315.43 572.13 311.8 573.4 C308.17 574.67 303.88 575.93 300.4 577.2 C296.92 578.47 293.92 579.73 290.9 581 C287.88 582.27 284.83 583.53 282.3 584.8 C279.77 586.07 277.5 587.5 275.7 588.6 C273.9 589.7 272.97 590.17 271.5 591.4 C270.03 592.63 268.05 594.45 266.9 596 C265.75 597.55 265.18 598.9 264.6 600.7 C264.02 602.5 263.77 604.17 263.4 606.8 C263.03 609.43 262.57 614.88 262.4 616.5 L262.2 616.5 C262.03 614.88 261.57 609.43 261.2 606.8 C260.83 604.17 260.58 602.5 260 600.7 C259.42 598.9 258.85 597.55 257.7 596 C256.55 594.45 254.57 592.63 253.1 591.4 C251.63 590.17 250.7 589.7 248.9 588.6 C247.1 587.5 244.83 586.07 242.3 584.8 C239.77 583.53 236.72 582.27 233.7 581 C230.68 579.73 227.68 578.47 224.2 577.2 C220.72 575.93 216.43 574.67 212.8 573.4 C209.17 572.13 205.08 570.87 202.4 569.6 C199.72 568.33 198.05 567.07 196.7 565.8 C195.35 564.53 194.38 563.27 194.3 562 C194.22 560.73 195 559.47 196.2 558.2 C197.4 556.93 199.2 555.67 201.5 554.4 C203.8 553.13 206.85 551.87 210 550.6 C213.15 549.33 216.77 548.07 220.4 546.8 C224.03 545.53 228.63 544.27 231.8 543 C234.97 541.73 237.18 540.47 239.4 539.2 C241.62 537.93 243.05 536.67 245.1 535.4 C247.15 534.13 250.12 532.75 251.7 531.6 C253.28 530.45 253.68 529.78 254.6 528.5 C255.52 527.22 256.5 525.68 257.2 523.9 C257.9 522.12 258.28 519.85 258.8 517.8 C259.32 515.75 259.85 513.65 260.3 511.6 C260.75 509.55 261.25 507.55 261.5 505.5 C261.75 503.45 261.72 501.35 261.8 499.3 C261.88 497.25 261.97 495.37 262 493.2 C262.03 491.03 262 487.45 262 486.3 Z" fill="#00467A" stroke="#1a1a1a" stroke-width="1.1" stroke-linejoin="round"/>
<line x1="262.3" y1="521" x2="262.3" y2="601.7" stroke="#1a1a1a" stroke-width="1.05"/>
<rect x="245.4" y="551.4" width="33.7" height="20.7" fill="#fff" stroke="#1a1a1a" stroke-width="1.1"/>
<line x1="245.4" y1="562.1" x2="279.1" y2="562.1" stroke="#111" stroke-width="1.95"/>
<path d="M126.3 485 V480.4 H262.3 V485" fill="none" stroke="#000" stroke-width="0.95"/>
<path d="M188.15 482.45L188.62 484.05L190.29 484L188.91 484.95L189.47 486.52L188.15 485.5L186.83 486.52L187.39 484.95L186.01 484L187.68 484.05ZM192.25 482.45L192.72 484.05L194.39 484L193.01 484.95L193.57 486.52L192.25 485.5L190.93 486.52L191.49 484.95L190.11 484L191.78 484.05ZM196.35 482.45L196.82 484.05L198.49 484L197.11 484.95L197.67 486.52L196.35 485.5L195.03 486.52L195.59 484.95L194.21 484L195.88 484.05ZM200.45 482.45L200.92 484.05L202.59 484L201.21 484.95L201.77 486.52L200.45 485.5L199.13 486.52L199.69 484.95L198.31 484L199.98 484.05Z" stroke="#222" stroke-width="0.25" stroke-linejoin="round" fill="#222"/>
<rect x="45" y="450.2" width="298.4" height="22.3" fill="#D9D9D9"/>
<line x1="45" y1="450.2" x2="45" y2="643" stroke="#5a5a5a" stroke-width="1.0"/>
<line x1="343.4" y1="450.2" x2="343.4" y2="643" stroke="#333333" stroke-width="1.0"/>
<line x1="44.5" y1="450.2" x2="343.9" y2="450.2" stroke="#606060" stroke-width="1"/>
<line x1="44.5" y1="472.5" x2="343.9" y2="472.5" stroke="#1a1a1a" stroke-width="1.05"/>
<line x1="44.5" y1="642.5" x2="343.9" y2="642.5" stroke="#333333" stroke-width="1.05"/>
<text x="194.2" y="464.8" font-size="10.2" fill="#1a1a1a" stroke="#1a1a1a" stroke-width="0.12" text-anchor="middle" textLength="105.3" lengthAdjust="spacingAndGlyphs">Low density lipoprotein</text>
<line x1="41.2" y1="612.3" x2="45" y2="612.3" stroke="#333333" stroke-width="1"/>
<text transform="translate(38.6 616.15) scale(0.925 1)" font-size="10" fill="#262626" stroke="#262626" stroke-width="0.22" text-anchor="end">-2</text>
<line x1="41.2" y1="564.4" x2="45" y2="564.4" stroke="#333333" stroke-width="1"/>
<text transform="translate(38.6 568.25) scale(0.925 1)" font-size="10" fill="#262626" stroke="#262626" stroke-width="0.22" text-anchor="end">0</text>
<line x1="41.2" y1="516.5" x2="45" y2="516.5" stroke="#333333" stroke-width="1"/>
<text transform="translate(38.6 520.35) scale(0.925 1)" font-size="10" fill="#262626" stroke="#262626" stroke-width="0.22" text-anchor="end">2</text>
<line x1="126.3" y1="642.5" x2="126.3" y2="646.1" stroke="#333333" stroke-width="1"/>
<text x="126.3" y="656.1" font-size="10.1" fill="#262626" stroke="#262626" stroke-width="0.22" text-anchor="middle" textLength="21" lengthAdjust="spacingAndGlyphs">Case</text>
<line x1="262.3" y1="642.5" x2="262.3" y2="646.1" stroke="#333333" stroke-width="1"/>
<text x="262.3" y="656.1" font-size="10.1" fill="#262626" stroke="#262626" stroke-width="0.22" text-anchor="middle" textLength="33.1" lengthAdjust="spacingAndGlyphs">Control</text>
<line x1="379.5" y1="635.95" x2="677.9" y2="635.95" stroke="#EEEEEE" stroke-width="0.8"/>
<line x1="379.5" y1="592.65" x2="677.9" y2="592.65" stroke="#EEEEEE" stroke-width="0.8"/>
<line x1="379.5" y1="549.35" x2="677.9" y2="549.35" stroke="#EEEEEE" stroke-width="0.8"/>
<line x1="379.5" y1="506.05" x2="677.9" y2="506.05" stroke="#EEEEEE" stroke-width="0.8"/>
<line x1="379.5" y1="614.3" x2="677.9" y2="614.3" stroke="#E6E6E6" stroke-width="1"/>
<line x1="379.5" y1="571" x2="677.9" y2="571" stroke="#E6E6E6" stroke-width="1"/>
<line x1="379.5" y1="527.7" x2="677.9" y2="527.7" stroke="#E6E6E6" stroke-width="1"/>
<line x1="379.5" y1="484.4" x2="677.9" y2="484.4" stroke="#E6E6E6" stroke-width="1"/>
<line x1="460.6" y1="472.5" x2="460.6" y2="642.5" stroke="#E6E6E6" stroke-width="1"/>
<line x1="596.6" y1="472.5" x2="596.6" y2="642.5" stroke="#E6E6E6" stroke-width="1"/>
<path d="M458.8 500.7 L462.4 500.7 C462.83 501.63 464.32 504.4 465 506.3 C465.68 508.2 466.15 510.15 466.5 512.1 C466.85 514.05 466.57 516.03 467.1 518 C467.63 519.97 468.4 521.95 469.7 523.9 C471 525.85 473.43 527.75 474.9 529.7 C476.37 531.65 477.52 533.88 478.5 535.6 C479.48 537.32 479.7 538.68 480.8 540 C481.9 541.32 483.22 542.33 485.1 543.5 C486.98 544.67 489.47 545.83 492.1 547 C494.73 548.17 498.12 549.33 500.9 550.5 C503.68 551.67 506.17 552.83 508.8 554 C511.43 555.17 514.22 556.33 516.7 557.5 C519.18 558.67 521.73 559.83 523.7 561 C525.67 562.17 528.13 563.47 528.5 564.5 C528.87 565.53 527.58 566.32 525.9 567.2 C524.22 568.08 521.1 568.78 518.4 569.8 C515.7 570.82 512.47 572.13 509.7 573.3 C506.93 574.47 504.07 575.63 501.8 576.8 C499.53 577.97 497.42 579.13 496.1 580.3 C494.78 581.47 494.42 582.63 493.9 583.8 C493.38 584.97 493.73 586.13 493 587.3 C492.27 588.47 491.1 589.63 489.5 590.8 C487.9 591.97 485.3 593.13 483.4 594.3 C481.5 595.47 479.7 596.63 478.1 597.8 C476.5 598.97 475.25 600.1 473.8 601.3 C472.35 602.5 470.68 603.72 469.4 605 C468.12 606.28 467.22 607.35 466.1 609 C464.98 610.65 463.58 612.77 462.7 614.9 C461.82 617.03 461.12 620.65 460.8 621.8 L460.4 621.8 C460.08 620.65 459.38 617.03 458.5 614.9 C457.62 612.77 456.22 610.65 455.1 609 C453.98 607.35 453.08 606.28 451.8 605 C450.52 603.72 448.85 602.5 447.4 601.3 C445.95 600.1 444.7 598.97 443.1 597.8 C441.5 596.63 439.7 595.47 437.8 594.3 C435.9 593.13 433.3 591.97 431.7 590.8 C430.1 589.63 428.93 588.47 428.2 587.3 C427.47 586.13 427.82 584.97 427.3 583.8 C426.78 582.63 426.42 581.47 425.1 580.3 C423.78 579.13 421.67 577.97 419.4 576.8 C417.13 575.63 414.27 574.47 411.5 573.3 C408.73 572.13 405.5 570.82 402.8 569.8 C400.1 568.78 396.98 568.08 395.3 567.2 C393.62 566.32 392.33 565.53 392.7 564.5 C393.07 563.47 395.53 562.17 397.5 561 C399.47 559.83 402.02 558.67 404.5 557.5 C406.98 556.33 409.77 555.17 412.4 554 C415.03 552.83 417.52 551.67 420.3 550.5 C423.08 549.33 426.47 548.17 429.1 547 C431.73 545.83 434.22 544.67 436.1 543.5 C437.98 542.33 439.3 541.32 440.4 540 C441.5 538.68 441.72 537.32 442.7 535.6 C443.68 533.88 444.83 531.65 446.3 529.7 C447.77 527.75 450.2 525.85 451.5 523.9 C452.8 521.95 453.57 519.97 454.1 518 C454.63 516.03 454.35 514.05 454.7 512.1 C455.05 510.15 455.52 508.2 456.2 506.3 C456.88 504.4 458.37 501.63 458.8 500.7 Z" fill="#FF8C00" stroke="#1a1a1a" stroke-width="1.1" stroke-linejoin="round"/>
<line x1="460.6" y1="518.4" x2="460.6" y2="610.8" stroke="#1a1a1a" stroke-width="1.05"/>
<rect x="443.4" y="553.4" width="34.2" height="24.4" fill="#fff" stroke="#1a1a1a" stroke-width="1.1"/>
<line x1="443.4" y1="565.9" x2="477.6" y2="565.9" stroke="#111" stroke-width="1.95"/>
<path d="M596.3 487.5 L596.9 487.5 C596.92 488.68 596.75 492.25 597 494.6 C597.25 496.95 597.87 499.25 598.4 501.6 C598.93 503.95 599.62 506.35 600.2 508.7 C600.78 511.05 601.32 513.37 601.9 515.7 C602.48 518.03 602.97 520.35 603.7 522.7 C604.43 525.05 604.98 527.45 606.3 529.8 C607.62 532.15 610.33 535.1 611.6 536.8 C612.87 538.5 612.93 538.73 613.9 540 C614.87 541.27 615.95 542.93 617.4 544.4 C618.85 545.87 620.78 547.35 622.6 548.8 C624.42 550.25 626.68 551.65 628.3 553.1 C629.92 554.55 630.4 556.03 632.3 557.5 C634.2 558.97 637.95 560.43 639.7 561.9 C641.45 563.37 641.42 564.98 642.8 566.3 C644.18 567.62 646.18 568.78 648 569.8 C649.82 570.82 652.27 571.53 653.7 572.4 C655.13 573.27 656.45 574.12 656.6 575 C656.75 575.88 655.08 576.82 654.6 577.7 C654.12 578.58 653.55 579.28 653.7 580.3 C653.85 581.32 655.87 582.78 655.5 583.8 C655.13 584.82 653.62 585.38 651.5 586.4 C649.38 587.42 645.57 588.73 642.8 589.9 C640.03 591.07 636.8 592.23 634.9 593.4 C633 594.57 633.58 595.58 631.4 596.9 C629.22 598.22 624.87 599.83 621.8 601.3 C618.73 602.77 615.33 604.23 613 605.7 C610.67 607.17 609.28 608.67 607.8 610.1 C606.32 611.53 605.37 612.43 604.1 614.3 C602.83 616.17 601.23 618.95 600.2 621.3 C599.17 623.65 598.48 626.02 597.9 628.4 C597.32 630.78 596.9 634.4 596.7 635.6 L596.5 635.6 C596.3 634.4 595.88 630.78 595.3 628.4 C594.72 626.02 594.03 623.65 593 621.3 C591.97 618.95 590.37 616.17 589.1 614.3 C587.83 612.43 586.88 611.53 585.4 610.1 C583.92 608.67 582.53 607.17 580.2 605.7 C577.87 604.23 574.47 602.77 571.4 601.3 C568.33 599.83 563.98 598.22 561.8 596.9 C559.62 595.58 560.2 594.57 558.3 593.4 C556.4 592.23 553.17 591.07 550.4 589.9 C547.63 588.73 543.82 587.42 541.7 586.4 C539.58 585.38 538.07 584.82 537.7 583.8 C537.33 582.78 539.35 581.32 539.5 580.3 C539.65 579.28 539.08 578.58 538.6 577.7 C538.12 576.82 536.45 575.88 536.6 575 C536.75 574.12 538.07 573.27 539.5 572.4 C540.93 571.53 543.38 570.82 545.2 569.8 C547.02 568.78 549.02 567.62 550.4 566.3 C551.78 564.98 551.75 563.37 553.5 561.9 C555.25 560.43 559 558.97 560.9 557.5 C562.8 556.03 563.28 554.55 564.9 553.1 C566.52 551.65 568.78 550.25 570.6 548.8 C572.42 547.35 574.35 545.87 575.8 544.4 C577.25 542.93 578.33 541.27 579.3 540 C580.27 538.73 580.33 538.5 581.6 536.8 C582.87 535.1 585.58 532.15 586.9 529.8 C588.22 527.45 588.77 525.05 589.5 522.7 C590.23 520.35 590.72 518.03 591.3 515.7 C591.88 513.37 592.42 511.05 593 508.7 C593.58 506.35 594.27 503.95 594.8 501.6 C595.33 499.25 595.95 496.95 596.2 494.6 C596.45 492.25 596.28 488.68 596.3 487.5 Z" fill="#00467A" stroke="#1a1a1a" stroke-width="1.1" stroke-linejoin="round"/>
<line x1="596.6" y1="522.2" x2="596.6" y2="625" stroke="#1a1a1a" stroke-width="1.05"/>
<rect x="579.6" y="561.4" width="33.7" height="25.6" fill="#fff" stroke="#1a1a1a" stroke-width="1.1"/>
<line x1="579.6" y1="574.1" x2="613.3" y2="574.1" stroke="#111" stroke-width="1.95"/>
<path d="M460.6 485 V480.4 H596.6 V485" fill="none" stroke="#000" stroke-width="0.95"/>
<path d="M522.45 482.45L522.92 484.05L524.59 484L523.21 484.95L523.77 486.52L522.45 485.5L521.13 486.52L521.69 484.95L520.31 484L521.98 484.05ZM526.55 482.45L527.02 484.05L528.69 484L527.31 484.95L527.87 486.52L526.55 485.5L525.23 486.52L525.79 484.95L524.41 484L526.08 484.05ZM530.65 482.45L531.12 484.05L532.79 484L531.41 484.95L531.97 486.52L530.65 485.5L529.33 486.52L529.89 484.95L528.51 484L530.18 484.05ZM534.75 482.45L535.22 484.05L536.89 484L535.51 484.95L536.07 486.52L534.75 485.5L533.43 486.52L533.99 484.95L532.61 484L534.28 484.05Z" stroke="#222" stroke-width="0.25" stroke-linejoin="round" fill="#222"/>
<rect x="379.5" y="450.2" width="298.4" height="22.3" fill="#D9D9D9"/>
<line x1="379.5" y1="450.2" x2="379.5" y2="643" stroke="#333333" stroke-width="1.0"/>
<line x1="677.9" y1="450.2" x2="677.9" y2="643" stroke="#5a5a5a" stroke-width="1.0"/>
<line x1="379" y1="450.2" x2="678.4" y2="450.2" stroke="#606060" stroke-width="1"/>
<line x1="379" y1="472.5" x2="678.4" y2="472.5" stroke="#1a1a1a" stroke-width="1.05"/>
<line x1="379" y1="642.5" x2="678.4" y2="642.5" stroke="#333333" stroke-width="1.05"/>
<text x="528.7" y="464.8" font-size="10.2" fill="#1a1a1a" stroke="#1a1a1a" stroke-width="0.12" text-anchor="middle" textLength="48.5" lengthAdjust="spacingAndGlyphs">Monocytes</text>
<line x1="375.7" y1="614.3" x2="379.5" y2="614.3" stroke="#333333" stroke-width="1"/>
<text transform="translate(373.1 618.15) scale(0.925 1)" font-size="10" fill="#262626" stroke="#262626" stroke-width="0.22" text-anchor="end">-0.2</text>
<line x1="375.7" y1="571" x2="379.5" y2="571" stroke="#333333" stroke-width="1"/>
<text transform="translate(373.1 574.85) scale(0.925 1)" font-size="10" fill="#262626" stroke="#262626" stroke-width="0.22" text-anchor="end">0.0</text>
<line x1="375.7" y1="527.7" x2="379.5" y2="527.7" stroke="#333333" stroke-width="1"/>
<text transform="translate(373.1 531.55) scale(0.925 1)" font-size="10" fill="#262626" stroke="#262626" stroke-width="0.22" text-anchor="end">0.2</text>
<line x1="375.7" y1="484.4" x2="379.5" y2="484.4" stroke="#333333" stroke-width="1"/>
<text transform="translate(373.1 488.25) scale(0.925 1)" font-size="10" fill="#262626" stroke="#262626" stroke-width="0.22" text-anchor="end">0.4</text>
<line x1="460.6" y1="642.5" x2="460.6" y2="646.1" stroke="#333333" stroke-width="1"/>
<text x="460.6" y="656.1" font-size="10.1" fill="#262626" stroke="#262626" stroke-width="0.22" text-anchor="middle" textLength="21" lengthAdjust="spacingAndGlyphs">Case</text>
<line x1="596.6" y1="642.5" x2="596.6" y2="646.1" stroke="#333333" stroke-width="1"/>
<text x="596.6" y="656.1" font-size="10.1" fill="#262626" stroke="#262626" stroke-width="0.22" text-anchor="middle" textLength="33.1" lengthAdjust="spacingAndGlyphs">Control</text>
<line x1="45" y1="840.83" x2="343.4" y2="840.83" stroke="#EEEEEE" stroke-width="0.8"/>
<line x1="45" y1="814.5" x2="343.4" y2="814.5" stroke="#EEEEEE" stroke-width="0.8"/>
<line x1="45" y1="788.16" x2="343.4" y2="788.16" stroke="#EEEEEE" stroke-width="0.8"/>
<line x1="45" y1="761.84" x2="343.4" y2="761.84" stroke="#EEEEEE" stroke-width="0.8"/>
<line x1="45" y1="735.5" x2="343.4" y2="735.5" stroke="#EEEEEE" stroke-width="0.8"/>
<line x1="45" y1="709.17" x2="343.4" y2="709.17" stroke="#EEEEEE" stroke-width="0.8"/>
<line x1="45" y1="853.99" x2="343.4" y2="853.99" stroke="#E6E6E6" stroke-width="1"/>
<line x1="45" y1="827.66" x2="343.4" y2="827.66" stroke="#E6E6E6" stroke-width="1"/>
<line x1="45" y1="801.33" x2="343.4" y2="801.33" stroke="#E6E6E6" stroke-width="1"/>
<line x1="45" y1="775" x2="343.4" y2="775" stroke="#E6E6E6" stroke-width="1"/>
<line x1="45" y1="748.67" x2="343.4" y2="748.67" stroke="#E6E6E6" stroke-width="1"/>
<line x1="45" y1="722.34" x2="343.4" y2="722.34" stroke="#E6E6E6" stroke-width="1"/>
<line x1="45" y1="696.01" x2="343.4" y2="696.01" stroke="#E6E6E6" stroke-width="1"/>
<line x1="126.3" y1="690.5" x2="126.3" y2="860.5" stroke="#E6E6E6" stroke-width="1"/>
<line x1="262.3" y1="690.5" x2="262.3" y2="860.5" stroke="#E6E6E6" stroke-width="1"/>
<path d="M125.8 707.3 L126.8 707.3 C126.97 708.32 127.27 711.23 127.8 713.4 C128.33 715.57 129.2 718 130 720.3 C130.8 722.6 131.82 724.9 132.6 727.2 C133.38 729.5 133.83 731.8 134.7 734.1 C135.57 736.4 136.42 738.7 137.8 741 C139.18 743.3 141.27 745.6 143 747.9 C144.73 750.2 146.82 752.5 148.2 754.8 C149.58 757.1 150.72 759.83 151.3 761.7 C151.88 763.57 151.73 764.62 151.7 766 C151.67 767.38 151.27 768.63 151.1 770 C150.93 771.37 150.48 772.78 150.7 774.2 C150.92 775.62 151.55 777.08 152.4 778.5 C153.25 779.92 154.73 781.3 155.8 782.7 C156.87 784.1 157.95 785.48 158.8 786.9 C159.65 788.32 160.35 789.78 160.9 791.2 C161.45 792.62 161.4 794 162.1 795.4 C162.8 796.8 163.97 798.18 165.1 799.6 C166.23 801.02 167.83 802.48 168.9 803.9 C169.97 805.32 171.05 806.7 171.5 808.1 C171.95 809.5 172.03 810.88 171.6 812.3 C171.17 813.72 170.33 815.18 168.9 816.6 C167.47 818.02 165.12 819.4 163 820.8 C160.88 822.2 158.47 823.58 156.2 825 C153.93 826.42 151.45 827.88 149.4 829.3 C147.35 830.72 145.52 832.1 143.9 833.5 C142.28 834.9 140.9 836.28 139.7 837.7 C138.5 839.12 137.73 840.53 136.7 842 C135.67 843.47 134.47 845.13 133.5 846.5 C132.53 847.87 131.6 849.1 130.9 850.2 C130.2 851.3 129.57 852.62 129.3 853.1 L123.3 853.1 C123.03 852.62 122.4 851.3 121.7 850.2 C121 849.1 120.07 847.87 119.1 846.5 C118.13 845.13 116.93 843.47 115.9 842 C114.87 840.53 114.1 839.12 112.9 837.7 C111.7 836.28 110.32 834.9 108.7 833.5 C107.08 832.1 105.25 830.72 103.2 829.3 C101.15 827.88 98.67 826.42 96.4 825 C94.13 823.58 91.72 822.2 89.6 820.8 C87.48 819.4 85.13 818.02 83.7 816.6 C82.27 815.18 81.43 813.72 81 812.3 C80.57 810.88 80.65 809.5 81.1 808.1 C81.55 806.7 82.63 805.32 83.7 803.9 C84.77 802.48 86.37 801.02 87.5 799.6 C88.63 798.18 89.8 796.8 90.5 795.4 C91.2 794 91.15 792.62 91.7 791.2 C92.25 789.78 92.95 788.32 93.8 786.9 C94.65 785.48 95.73 784.1 96.8 782.7 C97.87 781.3 99.35 779.92 100.2 778.5 C101.05 777.08 101.68 775.62 101.9 774.2 C102.12 772.78 101.67 771.37 101.5 770 C101.33 768.63 100.93 767.38 100.9 766 C100.87 764.62 100.72 763.57 101.3 761.7 C101.88 759.83 103.02 757.1 104.4 754.8 C105.78 752.5 107.87 750.2 109.6 747.9 C111.33 745.6 113.42 743.3 114.8 741 C116.18 738.7 117.03 736.4 117.9 734.1 C118.77 731.8 119.22 729.5 120 727.2 C120.78 724.9 121.8 722.6 122.6 720.3 C123.4 718 124.27 715.57 124.8 713.4 C125.33 711.23 125.63 708.32 125.8 707.3 Z" fill="#FF8C00" stroke="#1a1a1a" stroke-width="1.1" stroke-linejoin="round"/>
<line x1="126.3" y1="707" x2="126.3" y2="853.3" stroke="#1a1a1a" stroke-width="1.05"/>
<rect x="109.4" y="771.4" width="34" height="44.9" fill="#fff" stroke="#1a1a1a" stroke-width="1.1"/>
<line x1="109.4" y1="798.1" x2="143.4" y2="798.1" stroke="#111" stroke-width="1.95"/>
<path d="M262 705.5 L262.6 705.5 C262.82 706.63 263.45 710.28 263.9 712.3 C264.35 714.32 264.83 715.53 265.3 717.6 C265.77 719.67 265.68 722.35 266.7 724.7 C267.72 727.05 269.8 729.82 271.4 731.7 C273 733.58 274.97 734.62 276.3 736 C277.63 737.38 278.15 738.6 279.4 740 C280.65 741.4 282.2 743.08 283.8 744.4 C285.4 745.72 286.67 746.73 289 747.9 C291.33 749.07 294.87 750.23 297.8 751.4 C300.73 752.57 303.83 753.73 306.6 754.9 C309.37 756.07 312.07 757.23 314.4 758.4 C316.73 759.57 318.7 760.73 320.6 761.9 C322.5 763.07 324.35 764.23 325.8 765.4 C327.25 766.57 328.5 767.8 329.3 768.9 C330.1 770 330.67 770.98 330.6 772 C330.53 773.02 329.92 773.92 328.9 775 C327.88 776.08 326.18 777.33 324.5 778.5 C322.82 779.67 320.77 780.83 318.8 782 C316.83 783.17 314.73 784.33 312.7 785.5 C310.67 786.67 308.65 787.82 306.6 789 C304.55 790.18 302.88 791.42 300.4 792.6 C297.92 793.78 294.62 794.93 291.7 796.1 C288.78 797.27 285.38 798.58 282.9 799.6 C280.42 800.62 278.63 801.18 276.8 802.2 C274.97 803.22 273.53 803.95 271.9 805.7 C270.27 807.45 268.17 810.37 267 812.7 C265.83 815.03 265.42 817.35 264.9 819.7 C264.38 822.05 264.18 824.45 263.9 826.8 C263.62 829.15 263.38 831.45 263.2 833.8 C263.02 836.15 262.93 837.78 262.8 840.9 C262.67 844.02 262.47 850.57 262.4 852.5 L262.2 852.5 C262.13 850.57 261.93 844.02 261.8 840.9 C261.67 837.78 261.58 836.15 261.4 833.8 C261.22 831.45 260.98 829.15 260.7 826.8 C260.42 824.45 260.22 822.05 259.7 819.7 C259.18 817.35 258.77 815.03 257.6 812.7 C256.43 810.37 254.33 807.45 252.7 805.7 C251.07 803.95 249.63 803.22 247.8 802.2 C245.97 801.18 244.18 800.62 241.7 799.6 C239.22 798.58 235.82 797.27 232.9 796.1 C229.98 794.93 226.68 793.78 224.2 792.6 C221.72 791.42 220.05 790.18 218 789 C215.95 787.82 213.93 786.67 211.9 785.5 C209.87 784.33 207.77 783.17 205.8 782 C203.83 780.83 201.78 779.67 200.1 778.5 C198.42 777.33 196.72 776.08 195.7 775 C194.68 773.92 194.07 773.02 194 772 C193.93 770.98 194.5 770 195.3 768.9 C196.1 767.8 197.35 766.57 198.8 765.4 C200.25 764.23 202.1 763.07 204 761.9 C205.9 760.73 207.87 759.57 210.2 758.4 C212.53 757.23 215.23 756.07 218 754.9 C220.77 753.73 223.87 752.57 226.8 751.4 C229.73 750.23 233.27 749.07 235.6 747.9 C237.93 746.73 239.2 745.72 240.8 744.4 C242.4 743.08 243.95 741.4 245.2 740 C246.45 738.6 246.97 737.38 248.3 736 C249.63 734.62 251.6 733.58 253.2 731.7 C254.8 729.82 256.88 727.05 257.9 724.7 C258.92 722.35 258.83 719.67 259.3 717.6 C259.77 715.53 260.25 714.32 260.7 712.3 C261.15 710.28 261.78 706.63 262 705.5 Z" fill="#00467A" stroke="#1a1a1a" stroke-width="1.1" stroke-linejoin="round"/>
<line x1="262.3" y1="722.7" x2="262.3" y2="853.3" stroke="#1a1a1a" stroke-width="1.05"/>
<rect x="245.4" y="759.6" width="33.7" height="24.3" fill="#fff" stroke="#1a1a1a" stroke-width="1.1"/>
<line x1="245.4" y1="771.4" x2="279.1" y2="771.4" stroke="#111" stroke-width="1.95"/>
<path d="M126.3 703.3 V698.4 H262.3 V703.3" fill="none" stroke="#000" stroke-width="0.95"/>
<path d="M188.15 700.45L188.62 702.05L190.29 702L188.91 702.95L189.47 704.52L188.15 703.5L186.83 704.52L187.39 702.95L186.01 702L187.68 702.05ZM192.25 700.45L192.72 702.05L194.39 702L193.01 702.95L193.57 704.52L192.25 703.5L190.93 704.52L191.49 702.95L190.11 702L191.78 702.05ZM196.35 700.45L196.82 702.05L198.49 702L197.11 702.95L197.67 704.52L196.35 703.5L195.03 704.52L195.59 702.95L194.21 702L195.88 702.05ZM200.45 700.45L200.92 702.05L202.59 702L201.21 702.95L201.77 704.52L200.45 703.5L199.13 704.52L199.69 702.95L198.31 702L199.98 702.05Z" stroke="#222" stroke-width="0.25" stroke-linejoin="round" fill="#222"/>
<rect x="45" y="668.4" width="298.4" height="22.1" fill="#D9D9D9"/>
<line x1="45" y1="668.4" x2="45" y2="861" stroke="#5a5a5a" stroke-width="1.0"/>
<line x1="343.4" y1="668.4" x2="343.4" y2="861" stroke="#333333" stroke-width="1.0"/>
<line x1="44.5" y1="668.4" x2="343.9" y2="668.4" stroke="#606060" stroke-width="1"/>
<line x1="44.5" y1="690.5" x2="343.9" y2="690.5" stroke="#1a1a1a" stroke-width="1.05"/>
<line x1="44.5" y1="860.5" x2="343.9" y2="860.5" stroke="#333333" stroke-width="1.05"/>
<text x="194.2" y="683" font-size="10.2" fill="#1a1a1a" stroke="#1a1a1a" stroke-width="0.12" text-anchor="middle" textLength="75.1" lengthAdjust="spacingAndGlyphs">Total cholesterol</text>
<line x1="41.2" y1="853.99" x2="45" y2="853.99" stroke="#333333" stroke-width="1"/>
<text transform="translate(38.6 857.84) scale(0.925 1)" font-size="10" fill="#262626" stroke="#262626" stroke-width="0.22" text-anchor="end">-3</text>
<line x1="41.2" y1="827.66" x2="45" y2="827.66" stroke="#333333" stroke-width="1"/>
<text transform="translate(38.6 831.51) scale(0.925 1)" font-size="10" fill="#262626" stroke="#262626" stroke-width="0.22" text-anchor="end">-2</text>
<line x1="41.2" y1="801.33" x2="45" y2="801.33" stroke="#333333" stroke-width="1"/>
<text transform="translate(38.6 805.18) scale(0.925 1)" font-size="10" fill="#262626" stroke="#262626" stroke-width="0.22" text-anchor="end">-1</text>
<line x1="41.2" y1="775" x2="45" y2="775" stroke="#333333" stroke-width="1"/>
<text transform="translate(38.6 778.85) scale(0.925 1)" font-size="10" fill="#262626" stroke="#262626" stroke-width="0.22" text-anchor="end">0</text>
<line x1="41.2" y1="748.67" x2="45" y2="748.67" stroke="#333333" stroke-width="1"/>
<text transform="translate(38.6 752.52) scale(0.925 1)" font-size="10" fill="#262626" stroke="#262626" stroke-width="0.22" text-anchor="end">1</text>
<line x1="41.2" y1="722.34" x2="45" y2="722.34" stroke="#333333" stroke-width="1"/>
<text transform="translate(38.6 726.19) scale(0.925 1)" font-size="10" fill="#262626" stroke="#262626" stroke-width="0.22" text-anchor="end">2</text>
<line x1="41.2" y1="696.01" x2="45" y2="696.01" stroke="#333333" stroke-width="1"/>
<text transform="translate(38.6 699.86) scale(0.925 1)" font-size="10" fill="#262626" stroke="#262626" stroke-width="0.22" text-anchor="end">3</text>
<line x1="126.3" y1="860.5" x2="126.3" y2="864.1" stroke="#333333" stroke-width="1"/>
<text x="126.3" y="874.1" font-size="10.1" fill="#262626" stroke="#262626" stroke-width="0.22" text-anchor="middle" textLength="21" lengthAdjust="spacingAndGlyphs">Case</text>
<line x1="262.3" y1="860.5" x2="262.3" y2="864.1" stroke="#333333" stroke-width="1"/>
<text x="262.3" y="874.1" font-size="10.1" fill="#262626" stroke="#262626" stroke-width="0.22" text-anchor="middle" textLength="33.1" lengthAdjust="spacingAndGlyphs">Control</text>
<line x1="379.5" y1="845" x2="677.9" y2="845" stroke="#EEEEEE" stroke-width="0.8"/>
<line x1="379.5" y1="808.6" x2="677.9" y2="808.6" stroke="#EEEEEE" stroke-width="0.8"/>
<line x1="379.5" y1="772.2" x2="677.9" y2="772.2" stroke="#EEEEEE" stroke-width="0.8"/>
<line x1="379.5" y1="735.8" x2="677.9" y2="735.8" stroke="#EEEEEE" stroke-width="0.8"/>
<line x1="379.5" y1="699.4" x2="677.9" y2="699.4" stroke="#EEEEEE" stroke-width="0.8"/>
<line x1="379.5" y1="826.8" x2="677.9" y2="826.8" stroke="#E6E6E6" stroke-width="1"/>
<line x1="379.5" y1="790.4" x2="677.9" y2="790.4" stroke="#E6E6E6" stroke-width="1"/>
<line x1="379.5" y1="754" x2="677.9" y2="754" stroke="#E6E6E6" stroke-width="1"/>
<line x1="379.5" y1="717.6" x2="677.9" y2="717.6" stroke="#E6E6E6" stroke-width="1"/>
<line x1="460.6" y1="690.5" x2="460.6" y2="860.5" stroke="#E6E6E6" stroke-width="1"/>
<line x1="596.6" y1="690.5" x2="596.6" y2="860.5" stroke="#E6E6E6" stroke-width="1"/>
<path d="M458.7 721.4 L462.5 721.4 C462.57 722.22 462.8 724.42 462.9 726.3 C463 728.18 463.02 730.55 463.1 732.7 C463.18 734.85 463.28 737.05 463.4 739.2 C463.52 741.35 463.3 743.68 463.8 745.6 C464.3 747.52 465.43 749.38 466.4 750.7 C467.37 752.02 468.52 752.48 469.6 753.5 C470.68 754.52 471.48 755.67 472.9 756.8 C474.32 757.93 476.5 759.13 478.1 760.3 C479.7 761.47 480.88 762.63 482.5 763.8 C484.12 764.97 485.47 766.13 487.8 767.3 C490.13 768.47 493.3 769.63 496.5 770.8 C499.7 771.97 503.35 773.13 507 774.3 C510.65 775.47 515.18 776.63 518.4 777.8 C521.62 778.97 524.62 780.28 526.3 781.3 C527.98 782.32 528.65 783.03 528.5 783.9 C528.35 784.77 527.08 785.48 525.4 786.5 C523.72 787.52 520.88 788.83 518.4 790 C515.92 791.17 512.53 792.33 510.5 793.5 C508.47 794.67 507.22 795.83 506.2 797 C505.18 798.17 505.43 799.32 504.4 800.5 C503.37 801.68 501.9 802.92 500 804.1 C498.1 805.28 495.48 806.43 493 807.6 C490.52 808.77 487.58 809.93 485.1 811.1 C482.62 812.27 480.13 813.58 478.1 814.6 C476.07 815.62 474.57 816.3 472.9 817.2 C471.23 818.1 469.4 819.07 468.1 820 C466.8 820.93 465.82 821.8 465.1 822.8 C464.38 823.8 464.02 825.47 463.8 826 L457.4 826 C457.18 825.47 456.82 823.8 456.1 822.8 C455.38 821.8 454.4 820.93 453.1 820 C451.8 819.07 449.97 818.1 448.3 817.2 C446.63 816.3 445.13 815.62 443.1 814.6 C441.07 813.58 438.58 812.27 436.1 811.1 C433.62 809.93 430.68 808.77 428.2 807.6 C425.72 806.43 423.1 805.28 421.2 804.1 C419.3 802.92 417.83 801.68 416.8 800.5 C415.77 799.32 416.02 798.17 415 797 C413.98 795.83 412.73 794.67 410.7 793.5 C408.67 792.33 405.28 791.17 402.8 790 C400.32 788.83 397.48 787.52 395.8 786.5 C394.12 785.48 392.85 784.77 392.7 783.9 C392.55 783.03 393.22 782.32 394.9 781.3 C396.58 780.28 399.58 778.97 402.8 777.8 C406.02 776.63 410.55 775.47 414.2 774.3 C417.85 773.13 421.5 771.97 424.7 770.8 C427.9 769.63 431.07 768.47 433.4 767.3 C435.73 766.13 437.08 764.97 438.7 763.8 C440.32 762.63 441.5 761.47 443.1 760.3 C444.7 759.13 446.88 757.93 448.3 756.8 C449.72 755.67 450.52 754.52 451.6 753.5 C452.68 752.48 453.83 752.02 454.8 750.7 C455.77 749.38 456.9 747.52 457.4 745.6 C457.9 743.68 457.68 741.35 457.8 739.2 C457.92 737.05 458.02 734.85 458.1 732.7 C458.18 730.55 458.2 728.18 458.3 726.3 C458.4 724.42 458.63 722.22 458.7 721.4 Z" fill="#FF8C00" stroke="#1a1a1a" stroke-width="1.1" stroke-linejoin="round"/>
<line x1="460.6" y1="750.2" x2="460.6" y2="825" stroke="#1a1a1a" stroke-width="1.05"/>
<rect x="443.4" y="777.6" width="34.2" height="21.2" fill="#fff" stroke="#1a1a1a" stroke-width="1.1"/>
<line x1="443.4" y1="785.9" x2="477.6" y2="785.9" stroke="#111" stroke-width="1.95"/>
<path d="M596.1 705.3 L597.1 705.3 C597.17 706.77 597.32 711.17 597.5 714.1 C597.68 717.03 597.9 719.97 598.2 722.9 C598.5 725.83 598.88 728.77 599.3 731.7 C599.72 734.63 599.82 737.87 600.7 740.5 C601.58 743.13 603.08 745.15 604.6 747.5 C606.12 749.85 608.62 752.52 609.8 754.6 C610.98 756.68 610.73 758.37 611.7 760 C612.67 761.63 614.28 762.93 615.6 764.4 C616.92 765.87 618.07 767.35 619.6 768.8 C621.13 770.25 622.68 771.65 624.8 773.1 C626.92 774.55 629.73 776.03 632.3 777.5 C634.87 778.97 637.72 780.43 640.2 781.9 C642.68 783.37 645.08 784.83 647.2 786.3 C649.32 787.77 651.3 789.25 652.9 790.7 C654.5 792.15 655.97 793.7 656.8 795 C657.63 796.3 658.2 797.33 657.9 798.5 C657.6 799.67 656.78 800.83 655 802 C653.22 803.17 649.97 804.33 647.2 805.5 C644.43 806.67 641.33 807.82 638.4 809 C635.47 810.18 632.37 811.42 629.6 812.6 C626.83 813.78 624.05 814.93 621.8 816.1 C619.55 817.27 617.85 818.43 616.1 819.6 C614.35 820.77 612.83 821.93 611.3 823.1 C609.77 824.27 608.17 825.4 606.9 826.6 C605.63 827.8 604.73 828.52 603.7 830.3 C602.67 832.08 601.5 834.95 600.7 837.3 C599.9 839.65 599.57 841.82 598.9 844.4 C598.23 846.98 597.07 851.4 596.7 852.8 L596.5 852.8 C596.13 851.4 594.97 846.98 594.3 844.4 C593.63 841.82 593.3 839.65 592.5 837.3 C591.7 834.95 590.53 832.08 589.5 830.3 C588.47 828.52 587.57 827.8 586.3 826.6 C585.03 825.4 583.43 824.27 581.9 823.1 C580.37 821.93 578.85 820.77 577.1 819.6 C575.35 818.43 573.65 817.27 571.4 816.1 C569.15 814.93 566.37 813.78 563.6 812.6 C560.83 811.42 557.73 810.18 554.8 809 C551.87 807.82 548.77 806.67 546 805.5 C543.23 804.33 539.98 803.17 538.2 802 C536.42 800.83 535.6 799.67 535.3 798.5 C535 797.33 535.57 796.3 536.4 795 C537.23 793.7 538.7 792.15 540.3 790.7 C541.9 789.25 543.88 787.77 546 786.3 C548.12 784.83 550.52 783.37 553 781.9 C555.48 780.43 558.33 778.97 560.9 777.5 C563.47 776.03 566.28 774.55 568.4 773.1 C570.52 771.65 572.07 770.25 573.6 768.8 C575.13 767.35 576.28 765.87 577.6 764.4 C578.92 762.93 580.53 761.63 581.5 760 C582.47 758.37 582.22 756.68 583.4 754.6 C584.58 752.52 587.08 749.85 588.6 747.5 C590.12 745.15 591.62 743.13 592.5 740.5 C593.38 737.87 593.48 734.63 593.9 731.7 C594.32 728.77 594.7 725.83 595 722.9 C595.3 719.97 595.52 717.03 595.7 714.1 C595.88 711.17 596.03 706.77 596.1 705.3 Z" fill="#00467A" stroke="#1a1a1a" stroke-width="1.1" stroke-linejoin="round"/>
<line x1="596.6" y1="742.7" x2="596.6" y2="845" stroke="#1a1a1a" stroke-width="1.05"/>
<rect x="579.6" y="779.4" width="33.7" height="24.9" fill="#fff" stroke="#1a1a1a" stroke-width="1.1"/>
<line x1="579.6" y1="793.3" x2="613.3" y2="793.3" stroke="#111" stroke-width="1.95"/>
<path d="M460.6 703.3 V698.4 H596.6 V703.3" fill="none" stroke="#000" stroke-width="0.95"/>
<path d="M522.45 700.45L522.92 702.05L524.59 702L523.21 702.95L523.77 704.52L522.45 703.5L521.13 704.52L521.69 702.95L520.31 702L521.98 702.05ZM526.55 700.45L527.02 702.05L528.69 702L527.31 702.95L527.87 704.52L526.55 703.5L525.23 704.52L525.79 702.95L524.41 702L526.08 702.05ZM530.65 700.45L531.12 702.05L532.79 702L531.41 702.95L531.97 704.52L530.65 703.5L529.33 704.52L529.89 702.95L528.51 702L530.18 702.05ZM534.75 700.45L535.22 702.05L536.89 702L535.51 702.95L536.07 704.52L534.75 703.5L533.43 704.52L533.99 702.95L532.61 702L534.28 702.05Z" stroke="#222" stroke-width="0.25" stroke-linejoin="round" fill="#222"/>
<rect x="379.5" y="668.4" width="298.4" height="22.1" fill="#D9D9D9"/>
<line x1="379.5" y1="668.4" x2="379.5" y2="861" stroke="#333333" stroke-width="1.0"/>
<line x1="677.9" y1="668.4" x2="677.9" y2="861" stroke="#5a5a5a" stroke-width="1.0"/>
<line x1="379" y1="668.4" x2="678.4" y2="668.4" stroke="#606060" stroke-width="1"/>
<line x1="379" y1="690.5" x2="678.4" y2="690.5" stroke="#1a1a1a" stroke-width="1.05"/>
<line x1="379" y1="860.5" x2="678.4" y2="860.5" stroke="#333333" stroke-width="1.05"/>
<text x="528.7" y="683" font-size="10.2" fill="#1a1a1a" stroke="#1a1a1a" stroke-width="0.12" text-anchor="middle" textLength="72.2" lengthAdjust="spacingAndGlyphs">White blood cell</text>
<line x1="375.7" y1="826.8" x2="379.5" y2="826.8" stroke="#333333" stroke-width="1"/>
<text transform="translate(373.1 830.65) scale(0.925 1)" font-size="10" fill="#262626" stroke="#262626" stroke-width="0.22" text-anchor="end">-2</text>
<line x1="375.7" y1="790.4" x2="379.5" y2="790.4" stroke="#333333" stroke-width="1"/>
<text transform="translate(373.1 794.25) scale(0.925 1)" font-size="10" fill="#262626" stroke="#262626" stroke-width="0.22" text-anchor="end">0</text>
<line x1="375.7" y1="754" x2="379.5" y2="754" stroke="#333333" stroke-width="1"/>
<text transform="translate(373.1 757.85) scale(0.925 1)" font-size="10" fill="#262626" stroke="#262626" stroke-width="0.22" text-anchor="end">2</text>
<line x1="375.7" y1="717.6" x2="379.5" y2="717.6" stroke="#333333" stroke-width="1"/>
<text transform="translate(373.1 721.45) scale(0.925 1)" font-size="10" fill="#262626" stroke="#262626" stroke-width="0.22" text-anchor="end">4</text>
<line x1="460.6" y1="860.5" x2="460.6" y2="864.1" stroke="#333333" stroke-width="1"/>
<text x="460.6" y="874.1" font-size="10.1" fill="#262626" stroke="#262626" stroke-width="0.22" text-anchor="middle" textLength="21" lengthAdjust="spacingAndGlyphs">Case</text>
<line x1="596.6" y1="860.5" x2="596.6" y2="864.1" stroke="#333333" stroke-width="1"/>
<text x="596.6" y="874.1" font-size="10.1" fill="#262626" stroke="#262626" stroke-width="0.22" text-anchor="middle" textLength="33.1" lengthAdjust="spacingAndGlyphs">Control</text>
<text transform="translate(15.5 223.9) rotate(-90)" font-size="12.2" font-weight="bold" fill="#000" text-anchor="middle" textLength="86.5" lengthAdjust="spacingAndGlyphs">Baseline result</text>
<text transform="translate(15.5 666) rotate(-90)" font-size="12.2" font-weight="bold" fill="#000" text-anchor="middle" textLength="202" lengthAdjust="spacingAndGlyphs">Residual difference between visits</text>
<text x="4.8" y="14" font-size="12.8" font-weight="bold" fill="#000">A</text>
<text x="4.8" y="457.2" font-size="12.8" font-weight="bold" fill="#000">B</text>
</svg></body></html>
